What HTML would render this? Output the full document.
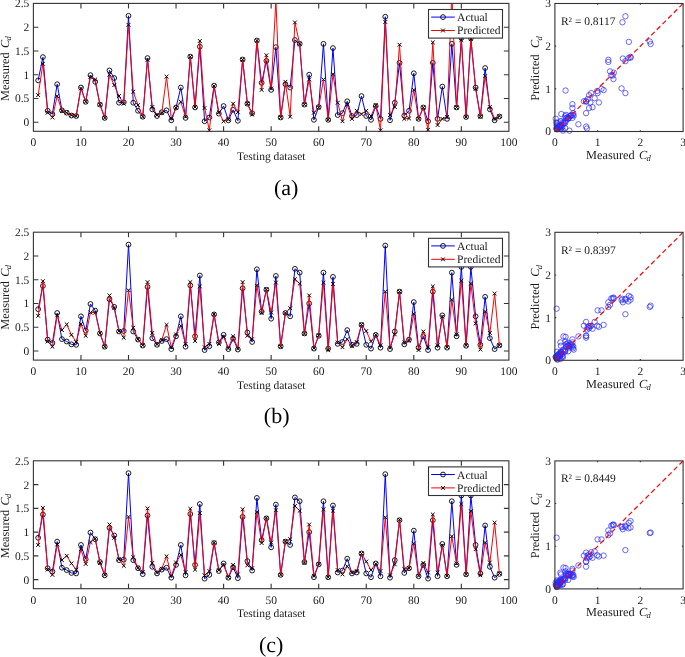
<!DOCTYPE html>
<html><head><meta charset="utf-8"><style>
html,body{margin:0;padding:0;background:#fff;}
svg{display:block;will-change:transform;}
text{font-family:"Liberation Serif", serif;text-rendering:geometricPrecision;}
.t{font-size:11.5px;fill:#1a1a1a;}
.l{font-size:11.5px;fill:#1a1a1a;}
.cap{font-size:22px;fill:#000;}
.al{font-size:12.3px;fill:#1a1a1a;}
</style></head><body>
<svg width="685" height="657" viewBox="0 0 685 657">
<text x="271.2" y="159.90" text-anchor="middle" class="l">Testing dataset</text>
<g transform="translate(8.90,100.90) rotate(-90)"><text x="0" y="0" class="al">Measured</text><text x="52.9" y="0" class="al" font-style="italic">C</text><text x="60.4" y="2.2" class="al" font-style="italic" style="font-size:8.5px">d</text></g>
<text x="286.1" y="194.60" text-anchor="middle" class="cap">(a)</text>
<clipPath id="cp0"><rect x="33.4" y="3.4" width="475.50" height="127.90"/></clipPath>
<polyline points="38.16,80.40 42.91,57.12 47.66,110.80 52.42,114.12 57.17,84.20 61.93,110.33 66.69,112.70 71.44,115.55 76.19,116.03 80.95,87.53 85.70,101.78 90.46,75.18 95.22,81.83 99.97,104.62 104.72,117.92 109.48,70.42 114.23,78.03 118.99,102.73 123.75,102.25 128.50,15.80 133.25,102.73 138.01,110.80 142.76,116.74 147.52,58.08 152.28,109.38 157.03,116.03 161.78,112.23 166.54,110.33 171.30,120.30 176.05,107.48 180.81,87.53 185.56,117.92 190.31,56.65 195.07,107.48 199.83,46.67 204.58,121.25 209.34,117.45 214.09,85.62 218.84,113.65 223.60,106.05 228.36,120.30 233.11,109.85 237.87,120.78 242.62,59.50 247.38,103.67 252.13,113.17 256.88,40.50 261.64,82.78 266.39,60.93 271.15,89.90 275.90,47.15 280.66,117.45 285.41,84.20 290.17,87.53 294.92,40.03 299.68,43.83 304.44,104.62 309.19,74.70 313.94,119.83 318.70,107.00 323.45,43.83 328.21,119.83 332.96,48.10 337.72,115.08 342.47,113.17 347.23,101.30 351.98,116.03 356.74,115.08 361.50,96.08 366.25,116.03 371.00,119.83 375.76,106.05 380.51,118.88 385.27,16.75 390.02,120.30 394.78,102.73 399.53,62.83 404.29,115.55 409.04,110.80 413.80,73.28 418.55,118.88 423.31,107.48 428.06,121.25 432.82,62.83 437.57,118.88 442.33,86.58 447.08,118.88 451.84,43.83 456.59,107.48 461.35,38.12 466.10,116.98 470.86,38.12 475.61,87.53 480.37,116.03 485.12,68.05 489.88,109.38 494.63,120.30 499.39,116.50" fill="none" stroke="#0000ff" stroke-width="1" clip-path="url(#cp0)"/>
<circle cx="38.16" cy="80.40" r="2.4" fill="none" stroke="#000" stroke-width="0.9"/>
<circle cx="42.91" cy="57.12" r="2.4" fill="none" stroke="#000" stroke-width="0.9"/>
<circle cx="47.66" cy="110.80" r="2.4" fill="none" stroke="#000" stroke-width="0.9"/>
<circle cx="52.42" cy="114.12" r="2.4" fill="none" stroke="#000" stroke-width="0.9"/>
<circle cx="57.17" cy="84.20" r="2.4" fill="none" stroke="#000" stroke-width="0.9"/>
<circle cx="61.93" cy="110.33" r="2.4" fill="none" stroke="#000" stroke-width="0.9"/>
<circle cx="66.69" cy="112.70" r="2.4" fill="none" stroke="#000" stroke-width="0.9"/>
<circle cx="71.44" cy="115.55" r="2.4" fill="none" stroke="#000" stroke-width="0.9"/>
<circle cx="76.19" cy="116.03" r="2.4" fill="none" stroke="#000" stroke-width="0.9"/>
<circle cx="80.95" cy="87.53" r="2.4" fill="none" stroke="#000" stroke-width="0.9"/>
<circle cx="85.70" cy="101.78" r="2.4" fill="none" stroke="#000" stroke-width="0.9"/>
<circle cx="90.46" cy="75.18" r="2.4" fill="none" stroke="#000" stroke-width="0.9"/>
<circle cx="95.22" cy="81.83" r="2.4" fill="none" stroke="#000" stroke-width="0.9"/>
<circle cx="99.97" cy="104.62" r="2.4" fill="none" stroke="#000" stroke-width="0.9"/>
<circle cx="104.72" cy="117.92" r="2.4" fill="none" stroke="#000" stroke-width="0.9"/>
<circle cx="109.48" cy="70.42" r="2.4" fill="none" stroke="#000" stroke-width="0.9"/>
<circle cx="114.23" cy="78.03" r="2.4" fill="none" stroke="#000" stroke-width="0.9"/>
<circle cx="118.99" cy="102.73" r="2.4" fill="none" stroke="#000" stroke-width="0.9"/>
<circle cx="123.75" cy="102.25" r="2.4" fill="none" stroke="#000" stroke-width="0.9"/>
<circle cx="128.50" cy="15.80" r="2.4" fill="none" stroke="#000" stroke-width="0.9"/>
<circle cx="133.25" cy="102.73" r="2.4" fill="none" stroke="#000" stroke-width="0.9"/>
<circle cx="138.01" cy="110.80" r="2.4" fill="none" stroke="#000" stroke-width="0.9"/>
<circle cx="142.76" cy="116.74" r="2.4" fill="none" stroke="#000" stroke-width="0.9"/>
<circle cx="147.52" cy="58.08" r="2.4" fill="none" stroke="#000" stroke-width="0.9"/>
<circle cx="152.28" cy="109.38" r="2.4" fill="none" stroke="#000" stroke-width="0.9"/>
<circle cx="157.03" cy="116.03" r="2.4" fill="none" stroke="#000" stroke-width="0.9"/>
<circle cx="161.78" cy="112.23" r="2.4" fill="none" stroke="#000" stroke-width="0.9"/>
<circle cx="166.54" cy="110.33" r="2.4" fill="none" stroke="#000" stroke-width="0.9"/>
<circle cx="171.30" cy="120.30" r="2.4" fill="none" stroke="#000" stroke-width="0.9"/>
<circle cx="176.05" cy="107.48" r="2.4" fill="none" stroke="#000" stroke-width="0.9"/>
<circle cx="180.81" cy="87.53" r="2.4" fill="none" stroke="#000" stroke-width="0.9"/>
<circle cx="185.56" cy="117.92" r="2.4" fill="none" stroke="#000" stroke-width="0.9"/>
<circle cx="190.31" cy="56.65" r="2.4" fill="none" stroke="#000" stroke-width="0.9"/>
<circle cx="195.07" cy="107.48" r="2.4" fill="none" stroke="#000" stroke-width="0.9"/>
<circle cx="199.83" cy="46.67" r="2.4" fill="none" stroke="#000" stroke-width="0.9"/>
<circle cx="204.58" cy="121.25" r="2.4" fill="none" stroke="#000" stroke-width="0.9"/>
<circle cx="209.34" cy="117.45" r="2.4" fill="none" stroke="#000" stroke-width="0.9"/>
<circle cx="214.09" cy="85.62" r="2.4" fill="none" stroke="#000" stroke-width="0.9"/>
<circle cx="218.84" cy="113.65" r="2.4" fill="none" stroke="#000" stroke-width="0.9"/>
<circle cx="223.60" cy="106.05" r="2.4" fill="none" stroke="#000" stroke-width="0.9"/>
<circle cx="228.36" cy="120.30" r="2.4" fill="none" stroke="#000" stroke-width="0.9"/>
<circle cx="233.11" cy="109.85" r="2.4" fill="none" stroke="#000" stroke-width="0.9"/>
<circle cx="237.87" cy="120.78" r="2.4" fill="none" stroke="#000" stroke-width="0.9"/>
<circle cx="242.62" cy="59.50" r="2.4" fill="none" stroke="#000" stroke-width="0.9"/>
<circle cx="247.38" cy="103.67" r="2.4" fill="none" stroke="#000" stroke-width="0.9"/>
<circle cx="252.13" cy="113.17" r="2.4" fill="none" stroke="#000" stroke-width="0.9"/>
<circle cx="256.88" cy="40.50" r="2.4" fill="none" stroke="#000" stroke-width="0.9"/>
<circle cx="261.64" cy="82.78" r="2.4" fill="none" stroke="#000" stroke-width="0.9"/>
<circle cx="266.39" cy="60.93" r="2.4" fill="none" stroke="#000" stroke-width="0.9"/>
<circle cx="271.15" cy="89.90" r="2.4" fill="none" stroke="#000" stroke-width="0.9"/>
<circle cx="275.90" cy="47.15" r="2.4" fill="none" stroke="#000" stroke-width="0.9"/>
<circle cx="280.66" cy="117.45" r="2.4" fill="none" stroke="#000" stroke-width="0.9"/>
<circle cx="285.41" cy="84.20" r="2.4" fill="none" stroke="#000" stroke-width="0.9"/>
<circle cx="290.17" cy="87.53" r="2.4" fill="none" stroke="#000" stroke-width="0.9"/>
<circle cx="294.92" cy="40.03" r="2.4" fill="none" stroke="#000" stroke-width="0.9"/>
<circle cx="299.68" cy="43.83" r="2.4" fill="none" stroke="#000" stroke-width="0.9"/>
<circle cx="304.44" cy="104.62" r="2.4" fill="none" stroke="#000" stroke-width="0.9"/>
<circle cx="309.19" cy="74.70" r="2.4" fill="none" stroke="#000" stroke-width="0.9"/>
<circle cx="313.94" cy="119.83" r="2.4" fill="none" stroke="#000" stroke-width="0.9"/>
<circle cx="318.70" cy="107.00" r="2.4" fill="none" stroke="#000" stroke-width="0.9"/>
<circle cx="323.45" cy="43.83" r="2.4" fill="none" stroke="#000" stroke-width="0.9"/>
<circle cx="328.21" cy="119.83" r="2.4" fill="none" stroke="#000" stroke-width="0.9"/>
<circle cx="332.96" cy="48.10" r="2.4" fill="none" stroke="#000" stroke-width="0.9"/>
<circle cx="337.72" cy="115.08" r="2.4" fill="none" stroke="#000" stroke-width="0.9"/>
<circle cx="342.47" cy="113.17" r="2.4" fill="none" stroke="#000" stroke-width="0.9"/>
<circle cx="347.23" cy="101.30" r="2.4" fill="none" stroke="#000" stroke-width="0.9"/>
<circle cx="351.98" cy="116.03" r="2.4" fill="none" stroke="#000" stroke-width="0.9"/>
<circle cx="356.74" cy="115.08" r="2.4" fill="none" stroke="#000" stroke-width="0.9"/>
<circle cx="361.50" cy="96.08" r="2.4" fill="none" stroke="#000" stroke-width="0.9"/>
<circle cx="366.25" cy="116.03" r="2.4" fill="none" stroke="#000" stroke-width="0.9"/>
<circle cx="371.00" cy="119.83" r="2.4" fill="none" stroke="#000" stroke-width="0.9"/>
<circle cx="375.76" cy="106.05" r="2.4" fill="none" stroke="#000" stroke-width="0.9"/>
<circle cx="380.51" cy="118.88" r="2.4" fill="none" stroke="#000" stroke-width="0.9"/>
<circle cx="385.27" cy="16.75" r="2.4" fill="none" stroke="#000" stroke-width="0.9"/>
<circle cx="390.02" cy="120.30" r="2.4" fill="none" stroke="#000" stroke-width="0.9"/>
<circle cx="394.78" cy="102.73" r="2.4" fill="none" stroke="#000" stroke-width="0.9"/>
<circle cx="399.53" cy="62.83" r="2.4" fill="none" stroke="#000" stroke-width="0.9"/>
<circle cx="404.29" cy="115.55" r="2.4" fill="none" stroke="#000" stroke-width="0.9"/>
<circle cx="409.04" cy="110.80" r="2.4" fill="none" stroke="#000" stroke-width="0.9"/>
<circle cx="413.80" cy="73.28" r="2.4" fill="none" stroke="#000" stroke-width="0.9"/>
<circle cx="418.55" cy="118.88" r="2.4" fill="none" stroke="#000" stroke-width="0.9"/>
<circle cx="423.31" cy="107.48" r="2.4" fill="none" stroke="#000" stroke-width="0.9"/>
<circle cx="428.06" cy="121.25" r="2.4" fill="none" stroke="#000" stroke-width="0.9"/>
<circle cx="432.82" cy="62.83" r="2.4" fill="none" stroke="#000" stroke-width="0.9"/>
<circle cx="437.57" cy="118.88" r="2.4" fill="none" stroke="#000" stroke-width="0.9"/>
<circle cx="442.33" cy="86.58" r="2.4" fill="none" stroke="#000" stroke-width="0.9"/>
<circle cx="447.08" cy="118.88" r="2.4" fill="none" stroke="#000" stroke-width="0.9"/>
<circle cx="451.84" cy="43.83" r="2.4" fill="none" stroke="#000" stroke-width="0.9"/>
<circle cx="456.59" cy="107.48" r="2.4" fill="none" stroke="#000" stroke-width="0.9"/>
<circle cx="461.35" cy="38.12" r="2.4" fill="none" stroke="#000" stroke-width="0.9"/>
<circle cx="466.10" cy="116.98" r="2.4" fill="none" stroke="#000" stroke-width="0.9"/>
<circle cx="470.86" cy="38.12" r="2.4" fill="none" stroke="#000" stroke-width="0.9"/>
<circle cx="475.61" cy="87.53" r="2.4" fill="none" stroke="#000" stroke-width="0.9"/>
<circle cx="480.37" cy="116.03" r="2.4" fill="none" stroke="#000" stroke-width="0.9"/>
<circle cx="485.12" cy="68.05" r="2.4" fill="none" stroke="#000" stroke-width="0.9"/>
<circle cx="489.88" cy="109.38" r="2.4" fill="none" stroke="#000" stroke-width="0.9"/>
<circle cx="494.63" cy="120.30" r="2.4" fill="none" stroke="#000" stroke-width="0.9"/>
<circle cx="499.39" cy="116.50" r="2.4" fill="none" stroke="#000" stroke-width="0.9"/>
<polyline points="38.16,95.12 42.91,63.78 47.66,112.70 52.42,117.45 57.17,96.08 61.93,110.80 66.69,112.70 71.44,115.08 76.19,116.03 80.95,88.47 85.70,101.78 90.46,77.08 95.22,79.45 99.97,104.62 104.72,117.92 109.48,74.70 114.23,85.15 118.99,96.08 123.75,103.67 128.50,24.83 133.25,91.80 138.01,105.10 142.76,116.74 147.52,59.98 152.28,107.00 157.03,115.08 161.78,113.17 166.54,76.60 171.30,118.40 176.05,107.95 180.81,101.78 185.56,116.74 190.31,56.65 195.07,107.00 199.83,40.98 204.58,107.95 209.34,130.28 214.09,86.10 218.84,112.23 223.60,121.25 228.36,119.35 233.11,103.67 237.87,112.23 242.62,59.50 247.38,103.67 252.13,114.60 256.88,40.50 261.64,89.90 266.39,55.23 271.15,88.47 275.90,0.60 280.66,117.45 285.41,81.83 290.17,116.74 294.92,22.45 299.68,43.83 304.44,104.62 309.19,79.45 313.94,112.70 318.70,107.48 323.45,79.45 328.21,119.83 332.96,74.22 337.72,102.73 342.47,121.25 347.23,104.62 351.98,118.88 356.74,110.80 361.50,114.12 366.25,110.80 371.00,116.03 375.76,105.10 380.51,130.28 385.27,21.98 390.02,115.08 394.78,107.00 399.53,44.78 404.29,118.88 409.04,118.40 413.80,89.90 418.55,118.88 423.31,107.48 428.06,129.80 432.82,42.40 437.57,125.05 442.33,118.88 447.08,116.98 451.84,-6.05 456.59,107.48 461.35,40.03 466.10,116.98 470.86,39.08 475.61,88.95 480.37,116.74 485.12,76.12 489.88,107.00 494.63,118.88 499.39,116.03" fill="none" stroke="#ff0000" stroke-width="1" clip-path="url(#cp0)"/>
<path d="M36.26,93.22L40.05,97.03M36.26,97.03L40.05,93.22M41.01,61.88L44.81,65.68M41.01,65.68L44.81,61.88M45.77,110.80L49.56,114.60M45.77,114.60L49.56,110.80M50.52,115.55L54.32,119.35M50.52,119.35L54.32,115.55M55.27,94.17L59.07,97.98M55.27,97.98L59.07,94.17M60.03,108.90L63.83,112.70M60.03,112.70L63.83,108.90M64.78,110.80L68.59,114.60M64.78,114.60L68.59,110.80M69.54,113.17L73.34,116.98M69.54,116.98L73.34,113.17M74.29,114.12L78.09,117.93M74.29,117.93L78.09,114.12M79.05,86.57L82.85,90.38M79.05,90.38L82.85,86.57M83.80,99.88L87.61,103.68M83.80,103.68L87.61,99.88M88.56,75.17L92.36,78.98M88.56,78.98L92.36,75.17M93.31,77.55L97.12,81.35M93.31,81.35L97.12,77.55M98.07,102.72L101.87,106.53M98.07,106.53L101.87,102.72M102.82,116.02L106.62,119.83M102.82,119.83L106.62,116.02M107.58,72.80L111.38,76.60M107.58,76.60L111.38,72.80M112.33,83.25L116.13,87.05M112.33,87.05L116.13,83.25M117.09,94.17L120.89,97.98M117.09,97.98L120.89,94.17M121.84,101.77L125.65,105.58M121.84,105.58L125.65,101.77M126.60,22.93L130.40,26.73M126.60,26.73L130.40,22.93M131.35,89.90L135.16,93.70M131.35,93.70L135.16,89.90M136.11,103.20L139.91,107.00M136.11,107.00L139.91,103.20M140.86,114.84L144.66,118.64M140.86,118.64L144.66,114.84M145.62,58.08L149.42,61.88M145.62,61.88L149.42,58.08M150.38,105.10L154.18,108.90M150.38,108.90L154.18,105.10M155.13,113.17L158.93,116.98M155.13,116.98L158.93,113.17M159.88,111.27L163.69,115.08M159.88,115.08L163.69,111.27M164.64,74.70L168.44,78.50M164.64,78.50L168.44,74.70M169.40,116.50L173.20,120.30M169.40,120.30L173.20,116.50M174.15,106.05L177.95,109.85M174.15,109.85L177.95,106.05M178.91,99.88L182.71,103.68M178.91,103.68L182.71,99.88M183.66,114.84L187.46,118.64M183.66,118.64L187.46,114.84M188.41,54.75L192.22,58.55M188.41,58.55L192.22,54.75M193.17,105.10L196.97,108.90M193.17,108.90L196.97,105.10M197.93,39.08L201.73,42.88M197.93,42.88L201.73,39.08M202.68,106.05L206.48,109.85M202.68,109.85L206.48,106.05M207.44,128.38L211.24,132.18M207.44,132.18L211.24,128.38M212.19,84.20L215.99,88.00M212.19,88.00L215.99,84.20M216.94,110.33L220.75,114.13M216.94,114.13L220.75,110.33M221.70,119.35L225.50,123.15M221.70,123.15L225.50,119.35M226.46,117.45L230.26,121.25M226.46,121.25L230.26,117.45M231.21,101.77L235.01,105.58M231.21,105.58L235.01,101.77M235.97,110.33L239.77,114.13M235.97,114.13L239.77,110.33M240.72,57.60L244.52,61.40M240.72,61.40L244.52,57.60M245.47,101.77L249.28,105.58M245.47,105.58L249.28,101.77M250.23,112.70L254.03,116.50M250.23,116.50L254.03,112.70M254.98,38.60L258.78,42.40M254.98,42.40L258.78,38.60M259.74,88.00L263.54,91.80M259.74,91.80L263.54,88.00M264.50,53.33L268.29,57.13M264.50,57.13L268.29,53.33M269.25,86.57L273.05,90.38M269.25,90.38L273.05,86.57M278.76,115.55L282.56,119.35M278.76,119.35L282.56,115.55M283.51,79.92L287.31,83.73M283.51,83.73L287.31,79.92M288.27,114.84L292.07,118.64M288.27,118.64L292.07,114.84M293.02,20.55L296.82,24.35M293.02,24.35L296.82,20.55M297.78,41.93L301.58,45.73M297.78,45.73L301.58,41.93M302.54,102.72L306.33,106.53M302.54,106.53L306.33,102.72M307.29,77.55L311.09,81.35M307.29,81.35L311.09,77.55M312.05,110.80L315.84,114.60M312.05,114.60L315.84,110.80M316.80,105.58L320.60,109.38M316.80,109.38L320.60,105.58M321.56,77.55L325.35,81.35M321.56,81.35L325.35,77.55M326.31,117.92L330.11,121.73M326.31,121.73L330.11,117.92M331.06,72.32L334.86,76.12M331.06,76.12L334.86,72.32M335.82,100.83L339.62,104.63M335.82,104.63L339.62,100.83M340.57,119.35L344.37,123.15M340.57,123.15L344.37,119.35M345.33,102.72L349.13,106.53M345.33,106.53L349.13,102.72M350.08,116.97L353.88,120.78M350.08,120.78L353.88,116.97M354.84,108.90L358.64,112.70M354.84,112.70L358.64,108.90M359.60,112.22L363.39,116.03M359.60,116.03L363.39,112.22M364.35,108.90L368.15,112.70M364.35,112.70L368.15,108.90M369.11,114.12L372.90,117.93M369.11,117.93L372.90,114.12M373.86,103.20L377.66,107.00M373.86,107.00L377.66,103.20M378.62,128.38L382.41,132.18M378.62,132.18L382.41,128.38M383.37,20.08L387.17,23.88M383.37,23.88L387.17,20.08M388.12,113.17L391.92,116.98M388.12,116.98L391.92,113.17M392.88,105.10L396.68,108.90M392.88,108.90L396.68,105.10M397.63,42.88L401.43,46.68M397.63,46.68L401.43,42.88M402.39,116.97L406.19,120.78M402.39,120.78L406.19,116.97M407.14,116.50L410.94,120.30M407.14,120.30L410.94,116.50M411.90,88.00L415.70,91.80M411.90,91.80L415.70,88.00M416.65,116.97L420.45,120.78M416.65,120.78L420.45,116.97M421.41,105.58L425.21,109.38M421.41,109.38L425.21,105.58M426.17,127.90L429.96,131.70M426.17,131.70L429.96,127.90M430.92,40.50L434.72,44.30M430.92,44.30L434.72,40.50M435.68,123.15L439.47,126.95M435.68,126.95L439.47,123.15M440.43,116.97L444.23,120.78M440.43,120.78L444.23,116.97M445.19,115.08L448.98,118.88M445.19,118.88L448.98,115.08M454.69,105.58L458.49,109.38M454.69,109.38L458.49,105.58M459.45,38.13L463.25,41.93M459.45,41.93L463.25,38.13M464.20,115.08L468.00,118.88M464.20,118.88L468.00,115.08M468.96,37.18L472.76,40.98M468.96,40.98L472.76,37.18M473.71,87.05L477.51,90.85M473.71,90.85L477.51,87.05M478.47,114.84L482.27,118.64M478.47,118.64L482.27,114.84M483.23,74.22L487.02,78.03M483.23,78.03L487.02,74.22M487.98,105.10L491.78,108.90M487.98,108.90L491.78,105.10M492.74,116.97L496.53,120.78M492.74,120.78L496.53,116.97M497.49,114.12L501.29,117.93M497.49,117.93L501.29,114.12" stroke="#000" stroke-width="1" fill="none"/>
<rect x="33.4" y="3.4" width="475.50" height="127.90" fill="none" stroke="#333333" stroke-width="1.1"/>
<text x="33.40" y="146.10" text-anchor="middle" class="t">0</text>
<text x="80.95" y="146.10" text-anchor="middle" class="t">10</text>
<text x="128.50" y="146.10" text-anchor="middle" class="t">20</text>
<text x="176.05" y="146.10" text-anchor="middle" class="t">30</text>
<text x="223.60" y="146.10" text-anchor="middle" class="t">40</text>
<text x="271.15" y="146.10" text-anchor="middle" class="t">50</text>
<text x="318.70" y="146.10" text-anchor="middle" class="t">60</text>
<text x="366.25" y="146.10" text-anchor="middle" class="t">70</text>
<text x="413.80" y="146.10" text-anchor="middle" class="t">80</text>
<text x="461.35" y="146.10" text-anchor="middle" class="t">90</text>
<text x="508.90" y="146.10" text-anchor="middle" class="t">100</text>
<text x="29.3" y="126.10" text-anchor="end" class="t">0</text>
<text x="29.3" y="102.35" text-anchor="end" class="t">0.5</text>
<text x="29.3" y="78.60" text-anchor="end" class="t">1</text>
<text x="29.3" y="54.85" text-anchor="end" class="t">1.5</text>
<text x="29.3" y="31.10" text-anchor="end" class="t">2</text>
<text x="29.3" y="7.35" text-anchor="end" class="t">2.5</text>
<path d="M80.95,131.30V126.30M80.95,3.40V8.40M128.50,131.30V126.30M128.50,3.40V8.40M176.05,131.30V126.30M176.05,3.40V8.40M223.60,131.30V126.30M223.60,3.40V8.40M271.15,131.30V126.30M271.15,3.40V8.40M318.70,131.30V126.30M318.70,3.40V8.40M366.25,131.30V126.30M366.25,3.40V8.40M413.80,131.30V126.30M413.80,3.40V8.40M461.35,131.30V126.30M461.35,3.40V8.40M33.4,122.20H38.40M508.9,122.20H503.90M33.4,98.45H38.40M508.9,98.45H503.90M33.4,74.70H38.40M508.9,74.70H503.90M33.4,50.95H38.40M508.9,50.95H503.90M33.4,27.20H38.40M508.9,27.20H503.90" stroke="#333333" stroke-width="1.1" fill="none"/>
<rect x="428.5" y="9.50" width="74" height="28.6" fill="#fff" stroke="#333333" stroke-width="1.1"/>
<line x1="431.2" y1="17.10" x2="454.8" y2="17.10" stroke="#0000ff" stroke-width="1"/>
<circle cx="443" cy="17.10" r="2.4" fill="none" stroke="#000" stroke-width="0.9"/>
<line x1="431.2" y1="30.50" x2="454.8" y2="30.50" stroke="#ff0000" stroke-width="1"/>
<path d="M441.1,28.60L444.9,32.40M441.1,32.40L444.9,28.60" stroke="#000" stroke-width="1"/>
<text x="457.1" y="21.30" class="l">Actual</text>
<text x="457.1" y="34.40" class="l">Predicted</text>
<g transform="translate(586.10,158.70)"><text x="0" y="0" class="al">Measured</text><text x="52.9" y="0" class="al" font-style="italic">C</text><text x="60.4" y="2.2" class="al" font-style="italic" style="font-size:8.5px">d</text></g>
<g transform="translate(539.30,100.80) rotate(-90)"><text x="0" y="0" class="al">Predicted</text><text x="52.9" y="0" class="al" font-style="italic">C</text><text x="60.4" y="2.2" class="al" font-style="italic" style="font-size:8.5px">d</text></g>
<text x="560.9" y="25.00" class="l">R² = 0.8117</text>
<circle cx="592.51" cy="107.18" r="2.7" fill="none" stroke="#2a2aff" stroke-width="0.7"/>
<circle cx="613.44" cy="79.02" r="2.7" fill="none" stroke="#2a2aff" stroke-width="0.7"/>
<circle cx="565.16" cy="122.97" r="2.7" fill="none" stroke="#2a2aff" stroke-width="0.7"/>
<circle cx="562.16" cy="127.23" r="2.7" fill="none" stroke="#2a2aff" stroke-width="0.7"/>
<circle cx="589.09" cy="108.03" r="2.7" fill="none" stroke="#2a2aff" stroke-width="0.7"/>
<circle cx="565.58" cy="121.26" r="2.7" fill="none" stroke="#2a2aff" stroke-width="0.7"/>
<circle cx="563.45" cy="122.97" r="2.7" fill="none" stroke="#2a2aff" stroke-width="0.7"/>
<circle cx="560.88" cy="125.10" r="2.7" fill="none" stroke="#2a2aff" stroke-width="0.7"/>
<circle cx="560.46" cy="125.95" r="2.7" fill="none" stroke="#2a2aff" stroke-width="0.7"/>
<circle cx="586.10" cy="101.21" r="2.7" fill="none" stroke="#2a2aff" stroke-width="0.7"/>
<circle cx="573.28" cy="113.15" r="2.7" fill="none" stroke="#2a2aff" stroke-width="0.7"/>
<circle cx="597.21" cy="90.97" r="2.7" fill="none" stroke="#2a2aff" stroke-width="0.7"/>
<circle cx="591.22" cy="93.10" r="2.7" fill="none" stroke="#2a2aff" stroke-width="0.7"/>
<circle cx="570.71" cy="115.71" r="2.7" fill="none" stroke="#2a2aff" stroke-width="0.7"/>
<circle cx="558.75" cy="127.66" r="2.7" fill="none" stroke="#2a2aff" stroke-width="0.7"/>
<circle cx="601.48" cy="88.83" r="2.7" fill="none" stroke="#2a2aff" stroke-width="0.7"/>
<circle cx="594.64" cy="98.22" r="2.7" fill="none" stroke="#2a2aff" stroke-width="0.7"/>
<circle cx="572.42" cy="108.03" r="2.7" fill="none" stroke="#2a2aff" stroke-width="0.7"/>
<circle cx="572.85" cy="114.86" r="2.7" fill="none" stroke="#2a2aff" stroke-width="0.7"/>
<circle cx="650.62" cy="44.03" r="2.7" fill="none" stroke="#2a2aff" stroke-width="0.7"/>
<circle cx="572.42" cy="104.19" r="2.7" fill="none" stroke="#2a2aff" stroke-width="0.7"/>
<circle cx="565.16" cy="116.14" r="2.7" fill="none" stroke="#2a2aff" stroke-width="0.7"/>
<circle cx="559.81" cy="126.59" r="2.7" fill="none" stroke="#2a2aff" stroke-width="0.7"/>
<circle cx="612.59" cy="75.61" r="2.7" fill="none" stroke="#2a2aff" stroke-width="0.7"/>
<circle cx="566.44" cy="117.85" r="2.7" fill="none" stroke="#2a2aff" stroke-width="0.7"/>
<circle cx="560.46" cy="125.10" r="2.7" fill="none" stroke="#2a2aff" stroke-width="0.7"/>
<circle cx="563.87" cy="123.39" r="2.7" fill="none" stroke="#2a2aff" stroke-width="0.7"/>
<circle cx="565.58" cy="90.54" r="2.7" fill="none" stroke="#2a2aff" stroke-width="0.7"/>
<circle cx="556.61" cy="128.09" r="2.7" fill="none" stroke="#2a2aff" stroke-width="0.7"/>
<circle cx="568.15" cy="118.70" r="2.7" fill="none" stroke="#2a2aff" stroke-width="0.7"/>
<circle cx="586.10" cy="113.15" r="2.7" fill="none" stroke="#2a2aff" stroke-width="0.7"/>
<circle cx="558.75" cy="126.59" r="2.7" fill="none" stroke="#2a2aff" stroke-width="0.7"/>
<circle cx="613.87" cy="72.62" r="2.7" fill="none" stroke="#2a2aff" stroke-width="0.7"/>
<circle cx="568.15" cy="117.85" r="2.7" fill="none" stroke="#2a2aff" stroke-width="0.7"/>
<circle cx="622.85" cy="58.54" r="2.7" fill="none" stroke="#2a2aff" stroke-width="0.7"/>
<circle cx="555.75" cy="118.70" r="2.7" fill="none" stroke="#2a2aff" stroke-width="0.7"/>
<circle cx="587.80" cy="99.07" r="2.7" fill="none" stroke="#2a2aff" stroke-width="0.7"/>
<circle cx="562.59" cy="122.54" r="2.7" fill="none" stroke="#2a2aff" stroke-width="0.7"/>
<circle cx="569.43" cy="130.65" r="2.7" fill="none" stroke="#2a2aff" stroke-width="0.7"/>
<circle cx="556.61" cy="128.94" r="2.7" fill="none" stroke="#2a2aff" stroke-width="0.7"/>
<circle cx="566.01" cy="114.86" r="2.7" fill="none" stroke="#2a2aff" stroke-width="0.7"/>
<circle cx="556.18" cy="122.54" r="2.7" fill="none" stroke="#2a2aff" stroke-width="0.7"/>
<circle cx="611.31" cy="75.18" r="2.7" fill="none" stroke="#2a2aff" stroke-width="0.7"/>
<circle cx="571.57" cy="114.86" r="2.7" fill="none" stroke="#2a2aff" stroke-width="0.7"/>
<circle cx="563.02" cy="124.67" r="2.7" fill="none" stroke="#2a2aff" stroke-width="0.7"/>
<circle cx="628.40" cy="58.11" r="2.7" fill="none" stroke="#2a2aff" stroke-width="0.7"/>
<circle cx="590.37" cy="102.49" r="2.7" fill="none" stroke="#2a2aff" stroke-width="0.7"/>
<circle cx="610.03" cy="71.34" r="2.7" fill="none" stroke="#2a2aff" stroke-width="0.7"/>
<circle cx="583.96" cy="101.21" r="2.7" fill="none" stroke="#2a2aff" stroke-width="0.7"/>
<circle cx="622.42" cy="22.27" r="2.7" fill="none" stroke="#2a2aff" stroke-width="0.7"/>
<circle cx="559.17" cy="127.23" r="2.7" fill="none" stroke="#2a2aff" stroke-width="0.7"/>
<circle cx="589.09" cy="95.23" r="2.7" fill="none" stroke="#2a2aff" stroke-width="0.7"/>
<circle cx="586.10" cy="126.59" r="2.7" fill="none" stroke="#2a2aff" stroke-width="0.7"/>
<circle cx="628.83" cy="41.90" r="2.7" fill="none" stroke="#2a2aff" stroke-width="0.7"/>
<circle cx="625.41" cy="61.10" r="2.7" fill="none" stroke="#2a2aff" stroke-width="0.7"/>
<circle cx="570.71" cy="115.71" r="2.7" fill="none" stroke="#2a2aff" stroke-width="0.7"/>
<circle cx="597.63" cy="93.10" r="2.7" fill="none" stroke="#2a2aff" stroke-width="0.7"/>
<circle cx="557.04" cy="122.97" r="2.7" fill="none" stroke="#2a2aff" stroke-width="0.7"/>
<circle cx="568.57" cy="118.27" r="2.7" fill="none" stroke="#2a2aff" stroke-width="0.7"/>
<circle cx="625.41" cy="93.10" r="2.7" fill="none" stroke="#2a2aff" stroke-width="0.7"/>
<circle cx="557.04" cy="129.37" r="2.7" fill="none" stroke="#2a2aff" stroke-width="0.7"/>
<circle cx="621.56" cy="88.41" r="2.7" fill="none" stroke="#2a2aff" stroke-width="0.7"/>
<circle cx="561.31" cy="114.01" r="2.7" fill="none" stroke="#2a2aff" stroke-width="0.7"/>
<circle cx="563.02" cy="130.65" r="2.7" fill="none" stroke="#2a2aff" stroke-width="0.7"/>
<circle cx="573.70" cy="115.71" r="2.7" fill="none" stroke="#2a2aff" stroke-width="0.7"/>
<circle cx="560.46" cy="128.51" r="2.7" fill="none" stroke="#2a2aff" stroke-width="0.7"/>
<circle cx="561.31" cy="121.26" r="2.7" fill="none" stroke="#2a2aff" stroke-width="0.7"/>
<circle cx="578.40" cy="124.25" r="2.7" fill="none" stroke="#2a2aff" stroke-width="0.7"/>
<circle cx="560.46" cy="121.26" r="2.7" fill="none" stroke="#2a2aff" stroke-width="0.7"/>
<circle cx="557.04" cy="125.95" r="2.7" fill="none" stroke="#2a2aff" stroke-width="0.7"/>
<circle cx="569.43" cy="116.14" r="2.7" fill="none" stroke="#2a2aff" stroke-width="0.7"/>
<circle cx="649.77" cy="41.47" r="2.7" fill="none" stroke="#2a2aff" stroke-width="0.7"/>
<circle cx="556.61" cy="125.10" r="2.7" fill="none" stroke="#2a2aff" stroke-width="0.7"/>
<circle cx="572.42" cy="117.85" r="2.7" fill="none" stroke="#2a2aff" stroke-width="0.7"/>
<circle cx="608.32" cy="61.95" r="2.7" fill="none" stroke="#2a2aff" stroke-width="0.7"/>
<circle cx="560.88" cy="128.51" r="2.7" fill="none" stroke="#2a2aff" stroke-width="0.7"/>
<circle cx="565.16" cy="128.09" r="2.7" fill="none" stroke="#2a2aff" stroke-width="0.7"/>
<circle cx="598.92" cy="102.49" r="2.7" fill="none" stroke="#2a2aff" stroke-width="0.7"/>
<circle cx="557.89" cy="128.51" r="2.7" fill="none" stroke="#2a2aff" stroke-width="0.7"/>
<circle cx="568.15" cy="118.27" r="2.7" fill="none" stroke="#2a2aff" stroke-width="0.7"/>
<circle cx="608.32" cy="59.82" r="2.7" fill="none" stroke="#2a2aff" stroke-width="0.7"/>
<circle cx="586.95" cy="128.51" r="2.7" fill="none" stroke="#2a2aff" stroke-width="0.7"/>
<circle cx="557.89" cy="126.81" r="2.7" fill="none" stroke="#2a2aff" stroke-width="0.7"/>
<circle cx="625.41" cy="16.30" r="2.7" fill="none" stroke="#2a2aff" stroke-width="0.7"/>
<circle cx="568.15" cy="118.27" r="2.7" fill="none" stroke="#2a2aff" stroke-width="0.7"/>
<circle cx="630.54" cy="57.69" r="2.7" fill="none" stroke="#2a2aff" stroke-width="0.7"/>
<circle cx="559.60" cy="126.81" r="2.7" fill="none" stroke="#2a2aff" stroke-width="0.7"/>
<circle cx="630.54" cy="56.83" r="2.7" fill="none" stroke="#2a2aff" stroke-width="0.7"/>
<circle cx="586.10" cy="101.63" r="2.7" fill="none" stroke="#2a2aff" stroke-width="0.7"/>
<circle cx="560.46" cy="126.59" r="2.7" fill="none" stroke="#2a2aff" stroke-width="0.7"/>
<circle cx="603.62" cy="90.11" r="2.7" fill="none" stroke="#2a2aff" stroke-width="0.7"/>
<circle cx="566.44" cy="117.85" r="2.7" fill="none" stroke="#2a2aff" stroke-width="0.7"/>
<circle cx="556.61" cy="128.51" r="2.7" fill="none" stroke="#2a2aff" stroke-width="0.7"/>
<circle cx="560.03" cy="125.95" r="2.7" fill="none" stroke="#2a2aff" stroke-width="0.7"/>
<line x1="554.9" y1="131.50" x2="683.1" y2="3.50" stroke="#ff0000" stroke-width="1.2" stroke-dasharray="5 3"/>
<rect x="554.9" y="3.50" width="128.20" height="128.00" fill="none" stroke="#333333" stroke-width="1.1"/>
<text x="554.90" y="146.10" text-anchor="middle" class="t">0</text>
<text x="551.0" y="135.40" text-anchor="end" class="t">0</text>
<text x="597.63" y="146.10" text-anchor="middle" class="t">1</text>
<text x="551.0" y="92.73" text-anchor="end" class="t">1</text>
<text x="640.37" y="146.10" text-anchor="middle" class="t">2</text>
<text x="551.0" y="50.07" text-anchor="end" class="t">2</text>
<text x="683.10" y="146.10" text-anchor="middle" class="t">3</text>
<text x="551.0" y="7.40" text-anchor="end" class="t">3</text>
<path d="M597.63,131.50V130.20M597.63,3.50V4.80M554.9,88.83H556.20M683.1,88.83H681.80M640.37,131.50V130.20M640.37,3.50V4.80M554.9,46.17H556.20M683.1,46.17H681.80" stroke="#333333" stroke-width="1.1" fill="none"/>
<text x="271.2" y="388.70" text-anchor="middle" class="l">Testing dataset</text>
<g transform="translate(8.90,329.70) rotate(-90)"><text x="0" y="0" class="al">Measured</text><text x="52.9" y="0" class="al" font-style="italic">C</text><text x="60.4" y="2.2" class="al" font-style="italic" style="font-size:8.5px">d</text></g>
<text x="276.7" y="423.40" text-anchor="middle" class="cap">(b)</text>
<clipPath id="cp1"><rect x="33.4" y="232.2" width="475.50" height="127.90"/></clipPath>
<polyline points="38.16,309.20 42.91,285.93 47.66,339.60 52.42,342.93 57.17,313.00 61.93,339.12 66.69,341.50 71.44,344.35 76.19,344.82 80.95,316.32 85.70,330.57 90.46,303.98 95.22,310.62 99.97,333.43 104.72,346.73 109.48,299.23 114.23,306.82 118.99,331.52 123.75,331.05 128.50,244.60 133.25,331.52 138.01,339.60 142.76,345.54 147.52,286.88 152.28,338.18 157.03,344.82 161.78,341.02 166.54,339.12 171.30,349.10 176.05,336.27 180.81,316.32 185.56,346.73 190.31,285.45 195.07,336.27 199.83,275.48 204.58,350.05 209.34,346.25 214.09,314.43 218.84,342.45 223.60,334.85 228.36,349.10 233.11,338.65 237.87,349.57 242.62,288.30 247.38,332.48 252.13,341.98 256.88,269.30 261.64,311.57 266.39,289.73 271.15,318.70 275.90,275.95 280.66,346.25 285.41,313.00 290.17,316.32 294.92,268.82 299.68,272.62 304.44,333.43 309.19,303.50 313.94,348.62 318.70,335.80 323.45,272.62 328.21,348.62 332.96,276.90 337.72,343.88 342.47,341.98 347.23,330.10 351.98,344.82 356.74,343.88 361.50,324.88 366.25,344.82 371.00,348.62 375.76,334.85 380.51,347.68 385.27,245.55 390.02,349.10 394.78,331.52 399.53,291.62 404.29,344.35 409.04,339.60 413.80,302.07 418.55,347.68 423.31,336.27 428.06,350.05 432.82,291.62 437.57,347.68 442.33,315.38 447.08,347.68 451.84,272.62 456.59,336.27 461.35,266.93 466.10,345.77 470.86,266.93 475.61,316.32 480.37,344.82 485.12,296.85 489.88,338.18 494.63,349.10 499.39,345.30" fill="none" stroke="#0000ff" stroke-width="1" clip-path="url(#cp1)"/>
<circle cx="38.16" cy="309.20" r="2.4" fill="none" stroke="#000" stroke-width="0.9"/>
<circle cx="42.91" cy="285.93" r="2.4" fill="none" stroke="#000" stroke-width="0.9"/>
<circle cx="47.66" cy="339.60" r="2.4" fill="none" stroke="#000" stroke-width="0.9"/>
<circle cx="52.42" cy="342.93" r="2.4" fill="none" stroke="#000" stroke-width="0.9"/>
<circle cx="57.17" cy="313.00" r="2.4" fill="none" stroke="#000" stroke-width="0.9"/>
<circle cx="61.93" cy="339.12" r="2.4" fill="none" stroke="#000" stroke-width="0.9"/>
<circle cx="66.69" cy="341.50" r="2.4" fill="none" stroke="#000" stroke-width="0.9"/>
<circle cx="71.44" cy="344.35" r="2.4" fill="none" stroke="#000" stroke-width="0.9"/>
<circle cx="76.19" cy="344.82" r="2.4" fill="none" stroke="#000" stroke-width="0.9"/>
<circle cx="80.95" cy="316.32" r="2.4" fill="none" stroke="#000" stroke-width="0.9"/>
<circle cx="85.70" cy="330.57" r="2.4" fill="none" stroke="#000" stroke-width="0.9"/>
<circle cx="90.46" cy="303.98" r="2.4" fill="none" stroke="#000" stroke-width="0.9"/>
<circle cx="95.22" cy="310.62" r="2.4" fill="none" stroke="#000" stroke-width="0.9"/>
<circle cx="99.97" cy="333.43" r="2.4" fill="none" stroke="#000" stroke-width="0.9"/>
<circle cx="104.72" cy="346.73" r="2.4" fill="none" stroke="#000" stroke-width="0.9"/>
<circle cx="109.48" cy="299.23" r="2.4" fill="none" stroke="#000" stroke-width="0.9"/>
<circle cx="114.23" cy="306.82" r="2.4" fill="none" stroke="#000" stroke-width="0.9"/>
<circle cx="118.99" cy="331.52" r="2.4" fill="none" stroke="#000" stroke-width="0.9"/>
<circle cx="123.75" cy="331.05" r="2.4" fill="none" stroke="#000" stroke-width="0.9"/>
<circle cx="128.50" cy="244.60" r="2.4" fill="none" stroke="#000" stroke-width="0.9"/>
<circle cx="133.25" cy="331.52" r="2.4" fill="none" stroke="#000" stroke-width="0.9"/>
<circle cx="138.01" cy="339.60" r="2.4" fill="none" stroke="#000" stroke-width="0.9"/>
<circle cx="142.76" cy="345.54" r="2.4" fill="none" stroke="#000" stroke-width="0.9"/>
<circle cx="147.52" cy="286.88" r="2.4" fill="none" stroke="#000" stroke-width="0.9"/>
<circle cx="152.28" cy="338.18" r="2.4" fill="none" stroke="#000" stroke-width="0.9"/>
<circle cx="157.03" cy="344.82" r="2.4" fill="none" stroke="#000" stroke-width="0.9"/>
<circle cx="161.78" cy="341.02" r="2.4" fill="none" stroke="#000" stroke-width="0.9"/>
<circle cx="166.54" cy="339.12" r="2.4" fill="none" stroke="#000" stroke-width="0.9"/>
<circle cx="171.30" cy="349.10" r="2.4" fill="none" stroke="#000" stroke-width="0.9"/>
<circle cx="176.05" cy="336.27" r="2.4" fill="none" stroke="#000" stroke-width="0.9"/>
<circle cx="180.81" cy="316.32" r="2.4" fill="none" stroke="#000" stroke-width="0.9"/>
<circle cx="185.56" cy="346.73" r="2.4" fill="none" stroke="#000" stroke-width="0.9"/>
<circle cx="190.31" cy="285.45" r="2.4" fill="none" stroke="#000" stroke-width="0.9"/>
<circle cx="195.07" cy="336.27" r="2.4" fill="none" stroke="#000" stroke-width="0.9"/>
<circle cx="199.83" cy="275.48" r="2.4" fill="none" stroke="#000" stroke-width="0.9"/>
<circle cx="204.58" cy="350.05" r="2.4" fill="none" stroke="#000" stroke-width="0.9"/>
<circle cx="209.34" cy="346.25" r="2.4" fill="none" stroke="#000" stroke-width="0.9"/>
<circle cx="214.09" cy="314.43" r="2.4" fill="none" stroke="#000" stroke-width="0.9"/>
<circle cx="218.84" cy="342.45" r="2.4" fill="none" stroke="#000" stroke-width="0.9"/>
<circle cx="223.60" cy="334.85" r="2.4" fill="none" stroke="#000" stroke-width="0.9"/>
<circle cx="228.36" cy="349.10" r="2.4" fill="none" stroke="#000" stroke-width="0.9"/>
<circle cx="233.11" cy="338.65" r="2.4" fill="none" stroke="#000" stroke-width="0.9"/>
<circle cx="237.87" cy="349.57" r="2.4" fill="none" stroke="#000" stroke-width="0.9"/>
<circle cx="242.62" cy="288.30" r="2.4" fill="none" stroke="#000" stroke-width="0.9"/>
<circle cx="247.38" cy="332.48" r="2.4" fill="none" stroke="#000" stroke-width="0.9"/>
<circle cx="252.13" cy="341.98" r="2.4" fill="none" stroke="#000" stroke-width="0.9"/>
<circle cx="256.88" cy="269.30" r="2.4" fill="none" stroke="#000" stroke-width="0.9"/>
<circle cx="261.64" cy="311.57" r="2.4" fill="none" stroke="#000" stroke-width="0.9"/>
<circle cx="266.39" cy="289.73" r="2.4" fill="none" stroke="#000" stroke-width="0.9"/>
<circle cx="271.15" cy="318.70" r="2.4" fill="none" stroke="#000" stroke-width="0.9"/>
<circle cx="275.90" cy="275.95" r="2.4" fill="none" stroke="#000" stroke-width="0.9"/>
<circle cx="280.66" cy="346.25" r="2.4" fill="none" stroke="#000" stroke-width="0.9"/>
<circle cx="285.41" cy="313.00" r="2.4" fill="none" stroke="#000" stroke-width="0.9"/>
<circle cx="290.17" cy="316.32" r="2.4" fill="none" stroke="#000" stroke-width="0.9"/>
<circle cx="294.92" cy="268.82" r="2.4" fill="none" stroke="#000" stroke-width="0.9"/>
<circle cx="299.68" cy="272.62" r="2.4" fill="none" stroke="#000" stroke-width="0.9"/>
<circle cx="304.44" cy="333.43" r="2.4" fill="none" stroke="#000" stroke-width="0.9"/>
<circle cx="309.19" cy="303.50" r="2.4" fill="none" stroke="#000" stroke-width="0.9"/>
<circle cx="313.94" cy="348.62" r="2.4" fill="none" stroke="#000" stroke-width="0.9"/>
<circle cx="318.70" cy="335.80" r="2.4" fill="none" stroke="#000" stroke-width="0.9"/>
<circle cx="323.45" cy="272.62" r="2.4" fill="none" stroke="#000" stroke-width="0.9"/>
<circle cx="328.21" cy="348.62" r="2.4" fill="none" stroke="#000" stroke-width="0.9"/>
<circle cx="332.96" cy="276.90" r="2.4" fill="none" stroke="#000" stroke-width="0.9"/>
<circle cx="337.72" cy="343.88" r="2.4" fill="none" stroke="#000" stroke-width="0.9"/>
<circle cx="342.47" cy="341.98" r="2.4" fill="none" stroke="#000" stroke-width="0.9"/>
<circle cx="347.23" cy="330.10" r="2.4" fill="none" stroke="#000" stroke-width="0.9"/>
<circle cx="351.98" cy="344.82" r="2.4" fill="none" stroke="#000" stroke-width="0.9"/>
<circle cx="356.74" cy="343.88" r="2.4" fill="none" stroke="#000" stroke-width="0.9"/>
<circle cx="361.50" cy="324.88" r="2.4" fill="none" stroke="#000" stroke-width="0.9"/>
<circle cx="366.25" cy="344.82" r="2.4" fill="none" stroke="#000" stroke-width="0.9"/>
<circle cx="371.00" cy="348.62" r="2.4" fill="none" stroke="#000" stroke-width="0.9"/>
<circle cx="375.76" cy="334.85" r="2.4" fill="none" stroke="#000" stroke-width="0.9"/>
<circle cx="380.51" cy="347.68" r="2.4" fill="none" stroke="#000" stroke-width="0.9"/>
<circle cx="385.27" cy="245.55" r="2.4" fill="none" stroke="#000" stroke-width="0.9"/>
<circle cx="390.02" cy="349.10" r="2.4" fill="none" stroke="#000" stroke-width="0.9"/>
<circle cx="394.78" cy="331.52" r="2.4" fill="none" stroke="#000" stroke-width="0.9"/>
<circle cx="399.53" cy="291.62" r="2.4" fill="none" stroke="#000" stroke-width="0.9"/>
<circle cx="404.29" cy="344.35" r="2.4" fill="none" stroke="#000" stroke-width="0.9"/>
<circle cx="409.04" cy="339.60" r="2.4" fill="none" stroke="#000" stroke-width="0.9"/>
<circle cx="413.80" cy="302.07" r="2.4" fill="none" stroke="#000" stroke-width="0.9"/>
<circle cx="418.55" cy="347.68" r="2.4" fill="none" stroke="#000" stroke-width="0.9"/>
<circle cx="423.31" cy="336.27" r="2.4" fill="none" stroke="#000" stroke-width="0.9"/>
<circle cx="428.06" cy="350.05" r="2.4" fill="none" stroke="#000" stroke-width="0.9"/>
<circle cx="432.82" cy="291.62" r="2.4" fill="none" stroke="#000" stroke-width="0.9"/>
<circle cx="437.57" cy="347.68" r="2.4" fill="none" stroke="#000" stroke-width="0.9"/>
<circle cx="442.33" cy="315.38" r="2.4" fill="none" stroke="#000" stroke-width="0.9"/>
<circle cx="447.08" cy="347.68" r="2.4" fill="none" stroke="#000" stroke-width="0.9"/>
<circle cx="451.84" cy="272.62" r="2.4" fill="none" stroke="#000" stroke-width="0.9"/>
<circle cx="456.59" cy="336.27" r="2.4" fill="none" stroke="#000" stroke-width="0.9"/>
<circle cx="461.35" cy="266.93" r="2.4" fill="none" stroke="#000" stroke-width="0.9"/>
<circle cx="466.10" cy="345.77" r="2.4" fill="none" stroke="#000" stroke-width="0.9"/>
<circle cx="470.86" cy="266.93" r="2.4" fill="none" stroke="#000" stroke-width="0.9"/>
<circle cx="475.61" cy="316.32" r="2.4" fill="none" stroke="#000" stroke-width="0.9"/>
<circle cx="480.37" cy="344.82" r="2.4" fill="none" stroke="#000" stroke-width="0.9"/>
<circle cx="485.12" cy="296.85" r="2.4" fill="none" stroke="#000" stroke-width="0.9"/>
<circle cx="489.88" cy="338.18" r="2.4" fill="none" stroke="#000" stroke-width="0.9"/>
<circle cx="494.63" cy="349.10" r="2.4" fill="none" stroke="#000" stroke-width="0.9"/>
<circle cx="499.39" cy="345.30" r="2.4" fill="none" stroke="#000" stroke-width="0.9"/>
<polyline points="38.16,315.85 42.91,281.18 47.66,341.50 52.42,346.73 57.17,315.38 61.93,330.10 66.69,324.40 71.44,334.85 76.19,341.98 80.95,323.93 85.70,335.80 90.46,312.52 95.22,312.52 99.97,332.95 104.72,346.73 109.48,295.43 114.23,308.25 118.99,331.05 123.75,337.70 128.50,290.20 133.25,327.73 138.01,339.12 142.76,345.30 147.52,282.12 152.28,332.95 157.03,344.35 161.78,340.07 166.54,324.88 171.30,347.20 176.05,334.38 180.81,325.82 185.56,343.88 190.31,282.12 195.07,341.02 199.83,286.40 204.58,347.20 209.34,343.88 214.09,313.95 218.84,343.88 223.60,336.75 228.36,348.15 233.11,336.27 237.87,348.62 242.62,282.12 247.38,335.80 252.13,339.12 256.88,285.45 261.64,313.00 266.39,289.25 271.15,312.52 275.90,282.60 280.66,346.73 285.41,313.00 290.17,308.25 294.92,279.27 299.68,283.55 304.44,333.90 309.19,295.43 313.94,348.15 318.70,335.32 323.45,282.60 328.21,350.05 332.96,284.02 337.72,342.45 342.47,347.20 347.23,339.12 351.98,346.25 356.74,341.98 361.50,324.40 366.25,331.05 371.00,341.50 375.76,334.85 380.51,345.30 385.27,291.62 390.02,347.68 394.78,334.38 399.53,291.62 404.29,342.45 409.04,340.55 413.80,313.71 418.55,350.05 423.31,331.52 428.06,347.20 432.82,286.40 437.57,345.30 442.33,316.80 447.08,347.20 451.84,299.70 456.59,334.38 461.35,280.70 466.10,345.30 470.86,283.55 475.61,323.45 480.37,349.57 485.12,311.57 489.88,332.95 494.63,293.52 499.39,345.30" fill="none" stroke="#ff0000" stroke-width="1" clip-path="url(#cp1)"/>
<path d="M36.26,313.95L40.05,317.75M36.26,317.75L40.05,313.95M41.01,279.28L44.81,283.07M41.01,283.07L44.81,279.28M45.77,339.60L49.56,343.40M45.77,343.40L49.56,339.60M50.52,344.83L54.32,348.62M50.52,348.62L54.32,344.83M55.27,313.48L59.07,317.27M55.27,317.27L59.07,313.48M60.03,328.20L63.83,332.00M60.03,332.00L63.83,328.20M64.78,322.50L68.59,326.30M64.78,326.30L68.59,322.50M69.54,332.95L73.34,336.75M69.54,336.75L73.34,332.95M74.29,340.08L78.09,343.88M74.29,343.88L78.09,340.08M79.05,322.03L82.85,325.82M79.05,325.82L82.85,322.03M83.80,333.90L87.61,337.70M83.80,337.70L87.61,333.90M88.56,310.62L92.36,314.42M88.56,314.42L92.36,310.62M93.31,310.62L97.12,314.42M93.31,314.42L97.12,310.62M98.07,331.05L101.87,334.85M98.07,334.85L101.87,331.05M102.82,344.83L106.62,348.62M102.82,348.62L106.62,344.83M107.58,293.53L111.38,297.32M107.58,297.32L111.38,293.53M112.33,306.35L116.13,310.15M112.33,310.15L116.13,306.35M117.09,329.15L120.89,332.95M117.09,332.95L120.89,329.15M121.84,335.80L125.65,339.60M121.84,339.60L125.65,335.80M126.60,288.30L130.40,292.10M126.60,292.10L130.40,288.30M131.35,325.83L135.16,329.62M131.35,329.62L135.16,325.83M136.11,337.23L139.91,341.02M136.11,341.02L139.91,337.23M140.86,343.40L144.66,347.20M140.86,347.20L144.66,343.40M145.62,280.23L149.42,284.02M145.62,284.02L149.42,280.23M150.38,331.05L154.18,334.85M150.38,334.85L154.18,331.05M155.13,342.45L158.93,346.25M155.13,346.25L158.93,342.45M159.88,338.18L163.69,341.97M159.88,341.97L163.69,338.18M164.64,322.98L168.44,326.77M164.64,326.77L168.44,322.98M169.40,345.30L173.20,349.10M169.40,349.10L173.20,345.30M174.15,332.48L177.95,336.27M174.15,336.27L177.95,332.48M178.91,323.93L182.71,327.72M178.91,327.72L182.71,323.93M183.66,341.98L187.46,345.77M183.66,345.77L187.46,341.98M188.41,280.23L192.22,284.02M188.41,284.02L192.22,280.23M193.17,339.12L196.97,342.92M193.17,342.92L196.97,339.12M197.93,284.50L201.73,288.30M197.93,288.30L201.73,284.50M202.68,345.30L206.48,349.10M202.68,349.10L206.48,345.30M207.44,341.98L211.24,345.77M207.44,345.77L211.24,341.98M212.19,312.05L215.99,315.85M212.19,315.85L215.99,312.05M216.94,341.98L220.75,345.77M216.94,345.77L220.75,341.98M221.70,334.85L225.50,338.65M221.70,338.65L225.50,334.85M226.46,346.25L230.26,350.05M226.46,350.05L230.26,346.25M231.21,334.38L235.01,338.17M231.21,338.17L235.01,334.38M235.97,346.73L239.77,350.52M235.97,350.52L239.77,346.73M240.72,280.23L244.52,284.02M240.72,284.02L244.52,280.23M245.47,333.90L249.28,337.70M245.47,337.70L249.28,333.90M250.23,337.23L254.03,341.02M250.23,341.02L254.03,337.23M254.98,283.55L258.78,287.35M254.98,287.35L258.78,283.55M259.74,311.10L263.54,314.90M259.74,314.90L263.54,311.10M264.50,287.35L268.29,291.15M264.50,291.15L268.29,287.35M269.25,310.62L273.05,314.42M269.25,314.42L273.05,310.62M274.00,280.70L277.80,284.50M274.00,284.50L277.80,280.70M278.76,344.83L282.56,348.62M278.76,348.62L282.56,344.83M283.51,311.10L287.31,314.90M283.51,314.90L287.31,311.10M288.27,306.35L292.07,310.15M288.27,310.15L292.07,306.35M293.02,277.38L296.82,281.17M293.02,281.17L296.82,277.38M297.78,281.65L301.58,285.45M297.78,285.45L301.58,281.65M302.54,332.00L306.33,335.80M302.54,335.80L306.33,332.00M307.29,293.53L311.09,297.32M307.29,297.32L311.09,293.53M312.05,346.25L315.84,350.05M312.05,350.05L315.84,346.25M316.80,333.43L320.60,337.22M316.80,337.22L320.60,333.43M321.56,280.70L325.35,284.50M321.56,284.50L325.35,280.70M326.31,348.15L330.11,351.95M326.31,351.95L330.11,348.15M331.06,282.12L334.86,285.92M331.06,285.92L334.86,282.12M335.82,340.55L339.62,344.35M335.82,344.35L339.62,340.55M340.57,345.30L344.37,349.10M340.57,349.10L344.37,345.30M345.33,337.23L349.13,341.02M345.33,341.02L349.13,337.23M350.08,344.35L353.88,348.15M350.08,348.15L353.88,344.35M354.84,340.08L358.64,343.88M354.84,343.88L358.64,340.08M359.60,322.50L363.39,326.30M359.60,326.30L363.39,322.50M364.35,329.15L368.15,332.95M364.35,332.95L368.15,329.15M369.11,339.60L372.90,343.40M369.11,343.40L372.90,339.60M373.86,332.95L377.66,336.75M373.86,336.75L377.66,332.95M378.62,343.40L382.41,347.20M378.62,347.20L382.41,343.40M383.37,289.73L387.17,293.52M383.37,293.52L387.17,289.73M388.12,345.78L391.92,349.57M388.12,349.57L391.92,345.78M392.88,332.48L396.68,336.27M392.88,336.27L396.68,332.48M397.63,289.73L401.43,293.52M397.63,293.52L401.43,289.73M402.39,340.55L406.19,344.35M402.39,344.35L406.19,340.55M407.14,338.65L410.94,342.45M407.14,342.45L410.94,338.65M411.90,311.81L415.70,315.61M411.90,315.61L415.70,311.81M416.65,348.15L420.45,351.95M416.65,351.95L420.45,348.15M421.41,329.62L425.21,333.42M421.41,333.42L425.21,329.62M426.17,345.30L429.96,349.10M426.17,349.10L429.96,345.30M430.92,284.50L434.72,288.30M430.92,288.30L434.72,284.50M435.68,343.40L439.47,347.20M435.68,347.20L439.47,343.40M440.43,314.90L444.23,318.70M440.43,318.70L444.23,314.90M445.19,345.30L448.98,349.10M445.19,349.10L448.98,345.30M449.94,297.80L453.74,301.60M449.94,301.60L453.74,297.80M454.69,332.48L458.49,336.27M454.69,336.27L458.49,332.48M459.45,278.80L463.25,282.60M459.45,282.60L463.25,278.80M464.20,343.40L468.00,347.20M464.20,347.20L468.00,343.40M468.96,281.65L472.76,285.45M468.96,285.45L472.76,281.65M473.71,321.55L477.51,325.35M473.71,325.35L477.51,321.55M478.47,347.68L482.27,351.47M478.47,351.47L482.27,347.68M483.23,309.68L487.02,313.47M483.23,313.47L487.02,309.68M487.98,331.05L491.78,334.85M487.98,334.85L491.78,331.05M492.74,291.62L496.53,295.42M492.74,295.42L496.53,291.62M497.49,343.40L501.29,347.20M497.49,347.20L501.29,343.40" stroke="#000" stroke-width="1" fill="none"/>
<rect x="33.4" y="232.2" width="475.50" height="127.90" fill="none" stroke="#333333" stroke-width="1.1"/>
<text x="33.40" y="374.90" text-anchor="middle" class="t">0</text>
<text x="80.95" y="374.90" text-anchor="middle" class="t">10</text>
<text x="128.50" y="374.90" text-anchor="middle" class="t">20</text>
<text x="176.05" y="374.90" text-anchor="middle" class="t">30</text>
<text x="223.60" y="374.90" text-anchor="middle" class="t">40</text>
<text x="271.15" y="374.90" text-anchor="middle" class="t">50</text>
<text x="318.70" y="374.90" text-anchor="middle" class="t">60</text>
<text x="366.25" y="374.90" text-anchor="middle" class="t">70</text>
<text x="413.80" y="374.90" text-anchor="middle" class="t">80</text>
<text x="461.35" y="374.90" text-anchor="middle" class="t">90</text>
<text x="508.90" y="374.90" text-anchor="middle" class="t">100</text>
<text x="29.3" y="354.90" text-anchor="end" class="t">0</text>
<text x="29.3" y="331.15" text-anchor="end" class="t">0.5</text>
<text x="29.3" y="307.40" text-anchor="end" class="t">1</text>
<text x="29.3" y="283.65" text-anchor="end" class="t">1.5</text>
<text x="29.3" y="259.90" text-anchor="end" class="t">2</text>
<text x="29.3" y="236.15" text-anchor="end" class="t">2.5</text>
<path d="M80.95,360.10V355.10M80.95,232.20V237.20M128.50,360.10V355.10M128.50,232.20V237.20M176.05,360.10V355.10M176.05,232.20V237.20M223.60,360.10V355.10M223.60,232.20V237.20M271.15,360.10V355.10M271.15,232.20V237.20M318.70,360.10V355.10M318.70,232.20V237.20M366.25,360.10V355.10M366.25,232.20V237.20M413.80,360.10V355.10M413.80,232.20V237.20M461.35,360.10V355.10M461.35,232.20V237.20M33.4,351.00H38.40M508.9,351.00H503.90M33.4,327.25H38.40M508.9,327.25H503.90M33.4,303.50H38.40M508.9,303.50H503.90M33.4,279.75H38.40M508.9,279.75H503.90M33.4,256.00H38.40M508.9,256.00H503.90" stroke="#333333" stroke-width="1.1" fill="none"/>
<rect x="428.5" y="238.30" width="74" height="28.6" fill="#fff" stroke="#333333" stroke-width="1.1"/>
<line x1="431.2" y1="245.90" x2="454.8" y2="245.90" stroke="#0000ff" stroke-width="1"/>
<circle cx="443" cy="245.90" r="2.4" fill="none" stroke="#000" stroke-width="0.9"/>
<line x1="431.2" y1="259.30" x2="454.8" y2="259.30" stroke="#ff0000" stroke-width="1"/>
<path d="M441.1,257.40L444.9,261.20M441.1,261.20L444.9,257.40" stroke="#000" stroke-width="1"/>
<text x="457.1" y="250.10" class="l">Actual</text>
<text x="457.1" y="263.20" class="l">Predicted</text>
<g transform="translate(586.10,387.50)"><text x="0" y="0" class="al">Measured</text><text x="52.9" y="0" class="al" font-style="italic">C</text><text x="60.4" y="2.2" class="al" font-style="italic" style="font-size:8.5px">d</text></g>
<g transform="translate(539.30,329.60) rotate(-90)"><text x="0" y="0" class="al">Predicted</text><text x="52.9" y="0" class="al" font-style="italic">C</text><text x="60.4" y="2.2" class="al" font-style="italic" style="font-size:8.5px">d</text></g>
<text x="560.9" y="253.80" class="l">R² = 0.8397</text>
<circle cx="592.51" cy="328.73" r="2.7" fill="none" stroke="#2a2aff" stroke-width="0.7"/>
<circle cx="613.44" cy="297.58" r="2.7" fill="none" stroke="#2a2aff" stroke-width="0.7"/>
<circle cx="565.16" cy="351.77" r="2.7" fill="none" stroke="#2a2aff" stroke-width="0.7"/>
<circle cx="562.16" cy="356.46" r="2.7" fill="none" stroke="#2a2aff" stroke-width="0.7"/>
<circle cx="589.09" cy="328.30" r="2.7" fill="none" stroke="#2a2aff" stroke-width="0.7"/>
<circle cx="565.58" cy="341.53" r="2.7" fill="none" stroke="#2a2aff" stroke-width="0.7"/>
<circle cx="563.45" cy="336.41" r="2.7" fill="none" stroke="#2a2aff" stroke-width="0.7"/>
<circle cx="560.88" cy="345.79" r="2.7" fill="none" stroke="#2a2aff" stroke-width="0.7"/>
<circle cx="560.46" cy="352.19" r="2.7" fill="none" stroke="#2a2aff" stroke-width="0.7"/>
<circle cx="586.10" cy="335.98" r="2.7" fill="none" stroke="#2a2aff" stroke-width="0.7"/>
<circle cx="573.28" cy="346.65" r="2.7" fill="none" stroke="#2a2aff" stroke-width="0.7"/>
<circle cx="597.21" cy="325.74" r="2.7" fill="none" stroke="#2a2aff" stroke-width="0.7"/>
<circle cx="591.22" cy="325.74" r="2.7" fill="none" stroke="#2a2aff" stroke-width="0.7"/>
<circle cx="570.71" cy="344.09" r="2.7" fill="none" stroke="#2a2aff" stroke-width="0.7"/>
<circle cx="558.75" cy="356.46" r="2.7" fill="none" stroke="#2a2aff" stroke-width="0.7"/>
<circle cx="601.48" cy="310.38" r="2.7" fill="none" stroke="#2a2aff" stroke-width="0.7"/>
<circle cx="594.64" cy="321.90" r="2.7" fill="none" stroke="#2a2aff" stroke-width="0.7"/>
<circle cx="572.42" cy="342.38" r="2.7" fill="none" stroke="#2a2aff" stroke-width="0.7"/>
<circle cx="572.85" cy="348.35" r="2.7" fill="none" stroke="#2a2aff" stroke-width="0.7"/>
<circle cx="650.62" cy="305.69" r="2.7" fill="none" stroke="#2a2aff" stroke-width="0.7"/>
<circle cx="572.42" cy="339.39" r="2.7" fill="none" stroke="#2a2aff" stroke-width="0.7"/>
<circle cx="565.16" cy="349.63" r="2.7" fill="none" stroke="#2a2aff" stroke-width="0.7"/>
<circle cx="559.81" cy="355.18" r="2.7" fill="none" stroke="#2a2aff" stroke-width="0.7"/>
<circle cx="612.59" cy="298.43" r="2.7" fill="none" stroke="#2a2aff" stroke-width="0.7"/>
<circle cx="566.44" cy="344.09" r="2.7" fill="none" stroke="#2a2aff" stroke-width="0.7"/>
<circle cx="560.46" cy="354.33" r="2.7" fill="none" stroke="#2a2aff" stroke-width="0.7"/>
<circle cx="563.87" cy="350.49" r="2.7" fill="none" stroke="#2a2aff" stroke-width="0.7"/>
<circle cx="565.58" cy="336.83" r="2.7" fill="none" stroke="#2a2aff" stroke-width="0.7"/>
<circle cx="556.61" cy="356.89" r="2.7" fill="none" stroke="#2a2aff" stroke-width="0.7"/>
<circle cx="568.15" cy="345.37" r="2.7" fill="none" stroke="#2a2aff" stroke-width="0.7"/>
<circle cx="586.10" cy="337.69" r="2.7" fill="none" stroke="#2a2aff" stroke-width="0.7"/>
<circle cx="558.75" cy="353.90" r="2.7" fill="none" stroke="#2a2aff" stroke-width="0.7"/>
<circle cx="613.87" cy="298.43" r="2.7" fill="none" stroke="#2a2aff" stroke-width="0.7"/>
<circle cx="568.15" cy="351.34" r="2.7" fill="none" stroke="#2a2aff" stroke-width="0.7"/>
<circle cx="622.85" cy="302.27" r="2.7" fill="none" stroke="#2a2aff" stroke-width="0.7"/>
<circle cx="555.75" cy="356.89" r="2.7" fill="none" stroke="#2a2aff" stroke-width="0.7"/>
<circle cx="559.17" cy="353.90" r="2.7" fill="none" stroke="#2a2aff" stroke-width="0.7"/>
<circle cx="587.80" cy="327.02" r="2.7" fill="none" stroke="#2a2aff" stroke-width="0.7"/>
<circle cx="562.59" cy="353.90" r="2.7" fill="none" stroke="#2a2aff" stroke-width="0.7"/>
<circle cx="569.43" cy="347.50" r="2.7" fill="none" stroke="#2a2aff" stroke-width="0.7"/>
<circle cx="556.61" cy="357.74" r="2.7" fill="none" stroke="#2a2aff" stroke-width="0.7"/>
<circle cx="566.01" cy="347.07" r="2.7" fill="none" stroke="#2a2aff" stroke-width="0.7"/>
<circle cx="556.18" cy="358.17" r="2.7" fill="none" stroke="#2a2aff" stroke-width="0.7"/>
<circle cx="611.31" cy="298.43" r="2.7" fill="none" stroke="#2a2aff" stroke-width="0.7"/>
<circle cx="571.57" cy="346.65" r="2.7" fill="none" stroke="#2a2aff" stroke-width="0.7"/>
<circle cx="563.02" cy="349.63" r="2.7" fill="none" stroke="#2a2aff" stroke-width="0.7"/>
<circle cx="628.40" cy="301.42" r="2.7" fill="none" stroke="#2a2aff" stroke-width="0.7"/>
<circle cx="590.37" cy="326.17" r="2.7" fill="none" stroke="#2a2aff" stroke-width="0.7"/>
<circle cx="610.03" cy="304.83" r="2.7" fill="none" stroke="#2a2aff" stroke-width="0.7"/>
<circle cx="583.96" cy="325.74" r="2.7" fill="none" stroke="#2a2aff" stroke-width="0.7"/>
<circle cx="622.42" cy="298.86" r="2.7" fill="none" stroke="#2a2aff" stroke-width="0.7"/>
<circle cx="559.17" cy="356.46" r="2.7" fill="none" stroke="#2a2aff" stroke-width="0.7"/>
<circle cx="589.09" cy="326.17" r="2.7" fill="none" stroke="#2a2aff" stroke-width="0.7"/>
<circle cx="586.10" cy="321.90" r="2.7" fill="none" stroke="#2a2aff" stroke-width="0.7"/>
<circle cx="628.83" cy="295.87" r="2.7" fill="none" stroke="#2a2aff" stroke-width="0.7"/>
<circle cx="625.41" cy="299.71" r="2.7" fill="none" stroke="#2a2aff" stroke-width="0.7"/>
<circle cx="570.71" cy="344.94" r="2.7" fill="none" stroke="#2a2aff" stroke-width="0.7"/>
<circle cx="597.63" cy="310.38" r="2.7" fill="none" stroke="#2a2aff" stroke-width="0.7"/>
<circle cx="557.04" cy="357.74" r="2.7" fill="none" stroke="#2a2aff" stroke-width="0.7"/>
<circle cx="568.57" cy="346.22" r="2.7" fill="none" stroke="#2a2aff" stroke-width="0.7"/>
<circle cx="625.41" cy="298.86" r="2.7" fill="none" stroke="#2a2aff" stroke-width="0.7"/>
<circle cx="557.04" cy="359.45" r="2.7" fill="none" stroke="#2a2aff" stroke-width="0.7"/>
<circle cx="621.56" cy="300.14" r="2.7" fill="none" stroke="#2a2aff" stroke-width="0.7"/>
<circle cx="561.31" cy="352.62" r="2.7" fill="none" stroke="#2a2aff" stroke-width="0.7"/>
<circle cx="563.02" cy="356.89" r="2.7" fill="none" stroke="#2a2aff" stroke-width="0.7"/>
<circle cx="573.70" cy="349.63" r="2.7" fill="none" stroke="#2a2aff" stroke-width="0.7"/>
<circle cx="560.46" cy="356.03" r="2.7" fill="none" stroke="#2a2aff" stroke-width="0.7"/>
<circle cx="561.31" cy="352.19" r="2.7" fill="none" stroke="#2a2aff" stroke-width="0.7"/>
<circle cx="578.40" cy="336.41" r="2.7" fill="none" stroke="#2a2aff" stroke-width="0.7"/>
<circle cx="560.46" cy="342.38" r="2.7" fill="none" stroke="#2a2aff" stroke-width="0.7"/>
<circle cx="557.04" cy="351.77" r="2.7" fill="none" stroke="#2a2aff" stroke-width="0.7"/>
<circle cx="569.43" cy="345.79" r="2.7" fill="none" stroke="#2a2aff" stroke-width="0.7"/>
<circle cx="557.89" cy="355.18" r="2.7" fill="none" stroke="#2a2aff" stroke-width="0.7"/>
<circle cx="649.77" cy="306.97" r="2.7" fill="none" stroke="#2a2aff" stroke-width="0.7"/>
<circle cx="556.61" cy="357.31" r="2.7" fill="none" stroke="#2a2aff" stroke-width="0.7"/>
<circle cx="572.42" cy="345.37" r="2.7" fill="none" stroke="#2a2aff" stroke-width="0.7"/>
<circle cx="608.32" cy="306.97" r="2.7" fill="none" stroke="#2a2aff" stroke-width="0.7"/>
<circle cx="560.88" cy="352.62" r="2.7" fill="none" stroke="#2a2aff" stroke-width="0.7"/>
<circle cx="565.16" cy="350.91" r="2.7" fill="none" stroke="#2a2aff" stroke-width="0.7"/>
<circle cx="598.92" cy="326.81" r="2.7" fill="none" stroke="#2a2aff" stroke-width="0.7"/>
<circle cx="557.89" cy="359.45" r="2.7" fill="none" stroke="#2a2aff" stroke-width="0.7"/>
<circle cx="568.15" cy="342.81" r="2.7" fill="none" stroke="#2a2aff" stroke-width="0.7"/>
<circle cx="555.75" cy="356.89" r="2.7" fill="none" stroke="#2a2aff" stroke-width="0.7"/>
<circle cx="608.32" cy="302.27" r="2.7" fill="none" stroke="#2a2aff" stroke-width="0.7"/>
<circle cx="557.89" cy="355.18" r="2.7" fill="none" stroke="#2a2aff" stroke-width="0.7"/>
<circle cx="586.95" cy="329.58" r="2.7" fill="none" stroke="#2a2aff" stroke-width="0.7"/>
<circle cx="557.89" cy="356.89" r="2.7" fill="none" stroke="#2a2aff" stroke-width="0.7"/>
<circle cx="625.41" cy="314.22" r="2.7" fill="none" stroke="#2a2aff" stroke-width="0.7"/>
<circle cx="568.15" cy="345.37" r="2.7" fill="none" stroke="#2a2aff" stroke-width="0.7"/>
<circle cx="630.54" cy="297.15" r="2.7" fill="none" stroke="#2a2aff" stroke-width="0.7"/>
<circle cx="559.60" cy="355.18" r="2.7" fill="none" stroke="#2a2aff" stroke-width="0.7"/>
<circle cx="630.54" cy="299.71" r="2.7" fill="none" stroke="#2a2aff" stroke-width="0.7"/>
<circle cx="586.10" cy="335.55" r="2.7" fill="none" stroke="#2a2aff" stroke-width="0.7"/>
<circle cx="560.46" cy="359.02" r="2.7" fill="none" stroke="#2a2aff" stroke-width="0.7"/>
<circle cx="603.62" cy="324.89" r="2.7" fill="none" stroke="#2a2aff" stroke-width="0.7"/>
<circle cx="566.44" cy="344.09" r="2.7" fill="none" stroke="#2a2aff" stroke-width="0.7"/>
<circle cx="556.61" cy="308.67" r="2.7" fill="none" stroke="#2a2aff" stroke-width="0.7"/>
<circle cx="560.03" cy="355.18" r="2.7" fill="none" stroke="#2a2aff" stroke-width="0.7"/>
<line x1="554.9" y1="360.30" x2="683.1" y2="232.30" stroke="#ff0000" stroke-width="1.2" stroke-dasharray="5 3"/>
<rect x="554.9" y="232.30" width="128.20" height="128.00" fill="none" stroke="#333333" stroke-width="1.1"/>
<text x="554.90" y="374.90" text-anchor="middle" class="t">0</text>
<text x="551.0" y="364.20" text-anchor="end" class="t">0</text>
<text x="597.63" y="374.90" text-anchor="middle" class="t">1</text>
<text x="551.0" y="321.53" text-anchor="end" class="t">1</text>
<text x="640.37" y="374.90" text-anchor="middle" class="t">2</text>
<text x="551.0" y="278.87" text-anchor="end" class="t">2</text>
<text x="683.10" y="374.90" text-anchor="middle" class="t">3</text>
<text x="551.0" y="236.20" text-anchor="end" class="t">3</text>
<path d="M597.63,360.30V359.00M597.63,232.30V233.60M554.9,317.63H556.20M683.1,317.63H681.80M640.37,360.30V359.00M640.37,232.30V233.60M554.9,274.97H556.20M683.1,274.97H681.80" stroke="#333333" stroke-width="1.1" fill="none"/>
<text x="271.2" y="617.30" text-anchor="middle" class="l">Testing dataset</text>
<g transform="translate(8.90,558.30) rotate(-90)"><text x="0" y="0" class="al">Measured</text><text x="52.9" y="0" class="al" font-style="italic">C</text><text x="60.4" y="2.2" class="al" font-style="italic" style="font-size:8.5px">d</text></g>
<text x="271.1" y="652.00" text-anchor="middle" class="cap">(c)</text>
<clipPath id="cp2"><rect x="33.4" y="460.8" width="475.50" height="127.90"/></clipPath>
<polyline points="38.16,537.80 42.91,514.52 47.66,568.20 52.42,571.52 57.17,541.60 61.93,567.73 66.69,570.10 71.44,572.95 76.19,573.43 80.95,544.93 85.70,559.18 90.46,532.58 95.22,539.23 99.97,562.02 104.72,575.33 109.48,527.83 114.23,535.43 118.99,560.12 123.75,559.65 128.50,473.20 133.25,560.12 138.01,568.20 142.76,574.14 147.52,515.48 152.28,566.77 157.03,573.43 161.78,569.62 166.54,567.73 171.30,577.70 176.05,564.88 180.81,544.93 185.56,575.33 190.31,514.05 195.07,564.88 199.83,504.08 204.58,578.65 209.34,574.85 214.09,543.02 218.84,571.05 223.60,563.45 228.36,577.70 233.11,567.25 237.87,578.18 242.62,516.90 247.38,561.08 252.13,570.58 256.88,497.90 261.64,540.18 266.39,518.33 271.15,547.30 275.90,504.55 280.66,574.85 285.41,541.60 290.17,544.93 294.92,497.43 299.68,501.23 304.44,562.02 309.19,532.10 313.94,577.23 318.70,564.40 323.45,501.23 328.21,577.23 332.96,505.50 337.72,572.48 342.47,570.58 347.23,558.70 351.98,573.43 356.74,572.48 361.50,553.48 366.25,573.43 371.00,577.23 375.76,563.45 380.51,576.27 385.27,474.15 390.02,577.70 394.78,560.12 399.53,520.23 404.29,572.95 409.04,568.20 413.80,530.68 418.55,576.27 423.31,564.88 428.06,578.65 432.82,520.23 437.57,576.27 442.33,543.98 447.08,576.27 451.84,501.23 456.59,564.88 461.35,495.53 466.10,574.38 470.86,495.53 475.61,544.93 480.37,573.43 485.12,525.45 489.88,566.77 494.63,577.70 499.39,573.90" fill="none" stroke="#0000ff" stroke-width="1" clip-path="url(#cp2)"/>
<circle cx="38.16" cy="537.80" r="2.4" fill="none" stroke="#000" stroke-width="0.9"/>
<circle cx="42.91" cy="514.52" r="2.4" fill="none" stroke="#000" stroke-width="0.9"/>
<circle cx="47.66" cy="568.20" r="2.4" fill="none" stroke="#000" stroke-width="0.9"/>
<circle cx="52.42" cy="571.52" r="2.4" fill="none" stroke="#000" stroke-width="0.9"/>
<circle cx="57.17" cy="541.60" r="2.4" fill="none" stroke="#000" stroke-width="0.9"/>
<circle cx="61.93" cy="567.73" r="2.4" fill="none" stroke="#000" stroke-width="0.9"/>
<circle cx="66.69" cy="570.10" r="2.4" fill="none" stroke="#000" stroke-width="0.9"/>
<circle cx="71.44" cy="572.95" r="2.4" fill="none" stroke="#000" stroke-width="0.9"/>
<circle cx="76.19" cy="573.43" r="2.4" fill="none" stroke="#000" stroke-width="0.9"/>
<circle cx="80.95" cy="544.93" r="2.4" fill="none" stroke="#000" stroke-width="0.9"/>
<circle cx="85.70" cy="559.18" r="2.4" fill="none" stroke="#000" stroke-width="0.9"/>
<circle cx="90.46" cy="532.58" r="2.4" fill="none" stroke="#000" stroke-width="0.9"/>
<circle cx="95.22" cy="539.23" r="2.4" fill="none" stroke="#000" stroke-width="0.9"/>
<circle cx="99.97" cy="562.02" r="2.4" fill="none" stroke="#000" stroke-width="0.9"/>
<circle cx="104.72" cy="575.33" r="2.4" fill="none" stroke="#000" stroke-width="0.9"/>
<circle cx="109.48" cy="527.83" r="2.4" fill="none" stroke="#000" stroke-width="0.9"/>
<circle cx="114.23" cy="535.43" r="2.4" fill="none" stroke="#000" stroke-width="0.9"/>
<circle cx="118.99" cy="560.12" r="2.4" fill="none" stroke="#000" stroke-width="0.9"/>
<circle cx="123.75" cy="559.65" r="2.4" fill="none" stroke="#000" stroke-width="0.9"/>
<circle cx="128.50" cy="473.20" r="2.4" fill="none" stroke="#000" stroke-width="0.9"/>
<circle cx="133.25" cy="560.12" r="2.4" fill="none" stroke="#000" stroke-width="0.9"/>
<circle cx="138.01" cy="568.20" r="2.4" fill="none" stroke="#000" stroke-width="0.9"/>
<circle cx="142.76" cy="574.14" r="2.4" fill="none" stroke="#000" stroke-width="0.9"/>
<circle cx="147.52" cy="515.48" r="2.4" fill="none" stroke="#000" stroke-width="0.9"/>
<circle cx="152.28" cy="566.77" r="2.4" fill="none" stroke="#000" stroke-width="0.9"/>
<circle cx="157.03" cy="573.43" r="2.4" fill="none" stroke="#000" stroke-width="0.9"/>
<circle cx="161.78" cy="569.62" r="2.4" fill="none" stroke="#000" stroke-width="0.9"/>
<circle cx="166.54" cy="567.73" r="2.4" fill="none" stroke="#000" stroke-width="0.9"/>
<circle cx="171.30" cy="577.70" r="2.4" fill="none" stroke="#000" stroke-width="0.9"/>
<circle cx="176.05" cy="564.88" r="2.4" fill="none" stroke="#000" stroke-width="0.9"/>
<circle cx="180.81" cy="544.93" r="2.4" fill="none" stroke="#000" stroke-width="0.9"/>
<circle cx="185.56" cy="575.33" r="2.4" fill="none" stroke="#000" stroke-width="0.9"/>
<circle cx="190.31" cy="514.05" r="2.4" fill="none" stroke="#000" stroke-width="0.9"/>
<circle cx="195.07" cy="564.88" r="2.4" fill="none" stroke="#000" stroke-width="0.9"/>
<circle cx="199.83" cy="504.08" r="2.4" fill="none" stroke="#000" stroke-width="0.9"/>
<circle cx="204.58" cy="578.65" r="2.4" fill="none" stroke="#000" stroke-width="0.9"/>
<circle cx="209.34" cy="574.85" r="2.4" fill="none" stroke="#000" stroke-width="0.9"/>
<circle cx="214.09" cy="543.02" r="2.4" fill="none" stroke="#000" stroke-width="0.9"/>
<circle cx="218.84" cy="571.05" r="2.4" fill="none" stroke="#000" stroke-width="0.9"/>
<circle cx="223.60" cy="563.45" r="2.4" fill="none" stroke="#000" stroke-width="0.9"/>
<circle cx="228.36" cy="577.70" r="2.4" fill="none" stroke="#000" stroke-width="0.9"/>
<circle cx="233.11" cy="567.25" r="2.4" fill="none" stroke="#000" stroke-width="0.9"/>
<circle cx="237.87" cy="578.18" r="2.4" fill="none" stroke="#000" stroke-width="0.9"/>
<circle cx="242.62" cy="516.90" r="2.4" fill="none" stroke="#000" stroke-width="0.9"/>
<circle cx="247.38" cy="561.08" r="2.4" fill="none" stroke="#000" stroke-width="0.9"/>
<circle cx="252.13" cy="570.58" r="2.4" fill="none" stroke="#000" stroke-width="0.9"/>
<circle cx="256.88" cy="497.90" r="2.4" fill="none" stroke="#000" stroke-width="0.9"/>
<circle cx="261.64" cy="540.18" r="2.4" fill="none" stroke="#000" stroke-width="0.9"/>
<circle cx="266.39" cy="518.33" r="2.4" fill="none" stroke="#000" stroke-width="0.9"/>
<circle cx="271.15" cy="547.30" r="2.4" fill="none" stroke="#000" stroke-width="0.9"/>
<circle cx="275.90" cy="504.55" r="2.4" fill="none" stroke="#000" stroke-width="0.9"/>
<circle cx="280.66" cy="574.85" r="2.4" fill="none" stroke="#000" stroke-width="0.9"/>
<circle cx="285.41" cy="541.60" r="2.4" fill="none" stroke="#000" stroke-width="0.9"/>
<circle cx="290.17" cy="544.93" r="2.4" fill="none" stroke="#000" stroke-width="0.9"/>
<circle cx="294.92" cy="497.43" r="2.4" fill="none" stroke="#000" stroke-width="0.9"/>
<circle cx="299.68" cy="501.23" r="2.4" fill="none" stroke="#000" stroke-width="0.9"/>
<circle cx="304.44" cy="562.02" r="2.4" fill="none" stroke="#000" stroke-width="0.9"/>
<circle cx="309.19" cy="532.10" r="2.4" fill="none" stroke="#000" stroke-width="0.9"/>
<circle cx="313.94" cy="577.23" r="2.4" fill="none" stroke="#000" stroke-width="0.9"/>
<circle cx="318.70" cy="564.40" r="2.4" fill="none" stroke="#000" stroke-width="0.9"/>
<circle cx="323.45" cy="501.23" r="2.4" fill="none" stroke="#000" stroke-width="0.9"/>
<circle cx="328.21" cy="577.23" r="2.4" fill="none" stroke="#000" stroke-width="0.9"/>
<circle cx="332.96" cy="505.50" r="2.4" fill="none" stroke="#000" stroke-width="0.9"/>
<circle cx="337.72" cy="572.48" r="2.4" fill="none" stroke="#000" stroke-width="0.9"/>
<circle cx="342.47" cy="570.58" r="2.4" fill="none" stroke="#000" stroke-width="0.9"/>
<circle cx="347.23" cy="558.70" r="2.4" fill="none" stroke="#000" stroke-width="0.9"/>
<circle cx="351.98" cy="573.43" r="2.4" fill="none" stroke="#000" stroke-width="0.9"/>
<circle cx="356.74" cy="572.48" r="2.4" fill="none" stroke="#000" stroke-width="0.9"/>
<circle cx="361.50" cy="553.48" r="2.4" fill="none" stroke="#000" stroke-width="0.9"/>
<circle cx="366.25" cy="573.43" r="2.4" fill="none" stroke="#000" stroke-width="0.9"/>
<circle cx="371.00" cy="577.23" r="2.4" fill="none" stroke="#000" stroke-width="0.9"/>
<circle cx="375.76" cy="563.45" r="2.4" fill="none" stroke="#000" stroke-width="0.9"/>
<circle cx="380.51" cy="576.27" r="2.4" fill="none" stroke="#000" stroke-width="0.9"/>
<circle cx="385.27" cy="474.15" r="2.4" fill="none" stroke="#000" stroke-width="0.9"/>
<circle cx="390.02" cy="577.70" r="2.4" fill="none" stroke="#000" stroke-width="0.9"/>
<circle cx="394.78" cy="560.12" r="2.4" fill="none" stroke="#000" stroke-width="0.9"/>
<circle cx="399.53" cy="520.23" r="2.4" fill="none" stroke="#000" stroke-width="0.9"/>
<circle cx="404.29" cy="572.95" r="2.4" fill="none" stroke="#000" stroke-width="0.9"/>
<circle cx="409.04" cy="568.20" r="2.4" fill="none" stroke="#000" stroke-width="0.9"/>
<circle cx="413.80" cy="530.68" r="2.4" fill="none" stroke="#000" stroke-width="0.9"/>
<circle cx="418.55" cy="576.27" r="2.4" fill="none" stroke="#000" stroke-width="0.9"/>
<circle cx="423.31" cy="564.88" r="2.4" fill="none" stroke="#000" stroke-width="0.9"/>
<circle cx="428.06" cy="578.65" r="2.4" fill="none" stroke="#000" stroke-width="0.9"/>
<circle cx="432.82" cy="520.23" r="2.4" fill="none" stroke="#000" stroke-width="0.9"/>
<circle cx="437.57" cy="576.27" r="2.4" fill="none" stroke="#000" stroke-width="0.9"/>
<circle cx="442.33" cy="543.98" r="2.4" fill="none" stroke="#000" stroke-width="0.9"/>
<circle cx="447.08" cy="576.27" r="2.4" fill="none" stroke="#000" stroke-width="0.9"/>
<circle cx="451.84" cy="501.23" r="2.4" fill="none" stroke="#000" stroke-width="0.9"/>
<circle cx="456.59" cy="564.88" r="2.4" fill="none" stroke="#000" stroke-width="0.9"/>
<circle cx="461.35" cy="495.53" r="2.4" fill="none" stroke="#000" stroke-width="0.9"/>
<circle cx="466.10" cy="574.38" r="2.4" fill="none" stroke="#000" stroke-width="0.9"/>
<circle cx="470.86" cy="495.53" r="2.4" fill="none" stroke="#000" stroke-width="0.9"/>
<circle cx="475.61" cy="544.93" r="2.4" fill="none" stroke="#000" stroke-width="0.9"/>
<circle cx="480.37" cy="573.43" r="2.4" fill="none" stroke="#000" stroke-width="0.9"/>
<circle cx="485.12" cy="525.45" r="2.4" fill="none" stroke="#000" stroke-width="0.9"/>
<circle cx="489.88" cy="566.77" r="2.4" fill="none" stroke="#000" stroke-width="0.9"/>
<circle cx="494.63" cy="577.70" r="2.4" fill="none" stroke="#000" stroke-width="0.9"/>
<circle cx="499.39" cy="573.90" r="2.4" fill="none" stroke="#000" stroke-width="0.9"/>
<polyline points="38.16,544.93 42.91,507.88 47.66,569.62 52.42,574.85 57.17,544.45 61.93,560.12 66.69,555.85 71.44,563.45 76.19,569.62 80.95,549.20 85.70,563.93 90.46,542.08 95.22,538.75 99.97,562.98 104.72,574.85 109.48,524.50 114.23,537.80 118.99,559.18 123.75,565.83 128.50,516.90 133.25,557.27 138.01,567.73 142.76,572.00 147.52,508.35 152.28,562.98 157.03,572.48 161.78,568.68 166.54,556.33 171.30,575.80 176.05,562.50 180.81,554.90 185.56,572.00 190.31,508.83 195.07,569.62 199.83,513.10 204.58,575.33 209.34,571.05 214.09,542.55 218.84,570.10 223.60,564.88 228.36,577.23 233.11,564.88 237.87,574.38 242.62,509.30 247.38,565.35 252.13,568.20 256.88,512.15 261.64,543.02 266.39,517.85 271.15,542.55 275.90,510.25 280.66,574.85 285.41,541.12 290.17,539.23 294.92,505.98 299.68,510.73 304.44,562.98 309.19,524.50 313.94,575.80 318.70,563.93 323.45,509.30 328.21,577.23 332.96,510.73 337.72,570.10 342.47,574.38 347.23,566.30 351.98,572.48 356.74,571.05 361.50,553.48 366.25,561.55 371.00,570.10 375.76,563.93 380.51,571.05 385.27,517.38 390.02,575.33 394.78,564.40 399.53,519.75 404.29,569.15 409.04,568.20 413.80,543.50 418.55,575.80 423.31,562.98 428.06,572.48 432.82,514.52 437.57,572.48 442.33,545.40 447.08,575.80 451.84,536.38 456.59,563.45 461.35,504.08 466.10,574.38 470.86,511.20 475.61,549.20 480.37,575.33 485.12,542.55 489.88,562.50 494.63,522.60 499.39,573.43" fill="none" stroke="#ff0000" stroke-width="1" clip-path="url(#cp2)"/>
<path d="M36.26,543.03L40.05,546.83M36.26,546.83L40.05,543.03M41.01,505.98L44.81,509.77M41.01,509.77L44.81,505.98M45.77,567.73L49.56,571.52M45.77,571.52L49.56,567.73M50.52,572.95L54.32,576.75M50.52,576.75L54.32,572.95M55.27,542.55L59.07,546.35M55.27,546.35L59.07,542.55M60.03,558.23L63.83,562.02M60.03,562.02L63.83,558.23M64.78,553.95L68.59,557.75M64.78,557.75L68.59,553.95M69.54,561.55L73.34,565.35M69.54,565.35L73.34,561.55M74.29,567.73L78.09,571.52M74.29,571.52L78.09,567.73M79.05,547.30L82.85,551.10M79.05,551.10L82.85,547.30M83.80,562.03L87.61,565.83M83.80,565.83L87.61,562.03M88.56,540.18L92.36,543.98M88.56,543.98L92.36,540.18M93.31,536.85L97.12,540.65M93.31,540.65L97.12,536.85M98.07,561.08L101.87,564.88M98.07,564.88L101.87,561.08M102.82,572.95L106.62,576.75M102.82,576.75L106.62,572.95M107.58,522.60L111.38,526.40M107.58,526.40L111.38,522.60M112.33,535.90L116.13,539.70M112.33,539.70L116.13,535.90M117.09,557.28L120.89,561.08M117.09,561.08L120.89,557.28M121.84,563.93L125.65,567.73M121.84,567.73L125.65,563.93M126.60,515.00L130.40,518.80M126.60,518.80L130.40,515.00M131.35,555.38L135.16,559.17M131.35,559.17L135.16,555.38M136.11,565.83L139.91,569.62M136.11,569.62L139.91,565.83M140.86,570.10L144.66,573.90M140.86,573.90L144.66,570.10M145.62,506.45L149.42,510.25M145.62,510.25L149.42,506.45M150.38,561.08L154.18,564.88M150.38,564.88L154.18,561.08M155.13,570.58L158.93,574.38M155.13,574.38L158.93,570.58M159.88,566.78L163.69,570.58M159.88,570.58L163.69,566.78M164.64,554.43L168.44,558.23M164.64,558.23L168.44,554.43M169.40,573.90L173.20,577.70M169.40,577.70L173.20,573.90M174.15,560.60L177.95,564.40M174.15,564.40L177.95,560.60M178.91,553.00L182.71,556.80M178.91,556.80L182.71,553.00M183.66,570.10L187.46,573.90M183.66,573.90L187.46,570.10M188.41,506.93L192.22,510.73M188.41,510.73L192.22,506.93M193.17,567.73L196.97,571.52M193.17,571.52L196.97,567.73M197.93,511.20L201.73,515.00M197.93,515.00L201.73,511.20M202.68,573.43L206.48,577.23M202.68,577.23L206.48,573.43M207.44,569.15L211.24,572.95M207.44,572.95L211.24,569.15M212.19,540.65L215.99,544.45M212.19,544.45L215.99,540.65M216.94,568.20L220.75,572.00M216.94,572.00L220.75,568.20M221.70,562.98L225.50,566.77M221.70,566.77L225.50,562.98M226.46,575.33L230.26,579.12M226.46,579.12L230.26,575.33M231.21,562.98L235.01,566.77M231.21,566.77L235.01,562.98M235.97,572.48L239.77,576.27M235.97,576.27L239.77,572.48M240.72,507.40L244.52,511.20M240.72,511.20L244.52,507.40M245.47,563.45L249.28,567.25M245.47,567.25L249.28,563.45M250.23,566.30L254.03,570.10M250.23,570.10L254.03,566.30M254.98,510.25L258.78,514.05M254.98,514.05L258.78,510.25M259.74,541.12L263.54,544.92M259.74,544.92L263.54,541.12M264.50,515.95L268.29,519.75M264.50,519.75L268.29,515.95M269.25,540.65L273.05,544.45M269.25,544.45L273.05,540.65M274.00,508.35L277.80,512.15M274.00,512.15L277.80,508.35M278.76,572.95L282.56,576.75M278.76,576.75L282.56,572.95M283.51,539.23L287.31,543.02M283.51,543.02L287.31,539.23M288.27,537.33L292.07,541.12M288.27,541.12L292.07,537.33M293.02,504.08L296.82,507.88M293.02,507.88L296.82,504.08M297.78,508.83L301.58,512.62M297.78,512.62L301.58,508.83M302.54,561.08L306.33,564.88M302.54,564.88L306.33,561.08M307.29,522.60L311.09,526.40M307.29,526.40L311.09,522.60M312.05,573.90L315.84,577.70M312.05,577.70L315.84,573.90M316.80,562.03L320.60,565.83M316.80,565.83L320.60,562.03M321.56,507.40L325.35,511.20M321.56,511.20L325.35,507.40M326.31,575.33L330.11,579.12M326.31,579.12L330.11,575.33M331.06,508.83L334.86,512.62M331.06,512.62L334.86,508.83M335.82,568.20L339.62,572.00M335.82,572.00L339.62,568.20M340.57,572.48L344.37,576.27M340.57,576.27L344.37,572.48M345.33,564.40L349.13,568.20M345.33,568.20L349.13,564.40M350.08,570.58L353.88,574.38M350.08,574.38L353.88,570.58M354.84,569.15L358.64,572.95M354.84,572.95L358.64,569.15M359.60,551.58L363.39,555.38M359.60,555.38L363.39,551.58M364.35,559.65L368.15,563.45M364.35,563.45L368.15,559.65M369.11,568.20L372.90,572.00M369.11,572.00L372.90,568.20M373.86,562.03L377.66,565.83M373.86,565.83L377.66,562.03M378.62,569.15L382.41,572.95M378.62,572.95L382.41,569.15M383.37,515.48L387.17,519.27M383.37,519.27L387.17,515.48M388.12,573.43L391.92,577.23M388.12,577.23L391.92,573.43M392.88,562.50L396.68,566.30M392.88,566.30L396.68,562.50M397.63,517.85L401.43,521.65M397.63,521.65L401.43,517.85M402.39,567.25L406.19,571.05M402.39,571.05L406.19,567.25M407.14,566.30L410.94,570.10M407.14,570.10L410.94,566.30M411.90,541.60L415.70,545.40M411.90,545.40L415.70,541.60M416.65,573.90L420.45,577.70M416.65,577.70L420.45,573.90M421.41,561.08L425.21,564.88M421.41,564.88L425.21,561.08M426.17,570.58L429.96,574.38M426.17,574.38L429.96,570.58M430.92,512.62L434.72,516.42M430.92,516.42L434.72,512.62M435.68,570.58L439.47,574.38M435.68,574.38L439.47,570.58M440.43,543.50L444.23,547.30M440.43,547.30L444.23,543.50M445.19,573.90L448.98,577.70M445.19,577.70L448.98,573.90M449.94,534.48L453.74,538.27M449.94,538.27L453.74,534.48M454.69,561.55L458.49,565.35M454.69,565.35L458.49,561.55M459.45,502.18L463.25,505.98M459.45,505.98L463.25,502.18M464.20,572.48L468.00,576.27M464.20,576.27L468.00,572.48M468.96,509.30L472.76,513.10M468.96,513.10L472.76,509.30M473.71,547.30L477.51,551.10M473.71,551.10L477.51,547.30M478.47,573.43L482.27,577.23M478.47,577.23L482.27,573.43M483.23,540.65L487.02,544.45M483.23,544.45L487.02,540.65M487.98,560.60L491.78,564.40M487.98,564.40L491.78,560.60M492.74,520.70L496.53,524.50M492.74,524.50L496.53,520.70M497.49,571.53L501.29,575.33M497.49,575.33L501.29,571.53" stroke="#000" stroke-width="1" fill="none"/>
<rect x="33.4" y="460.8" width="475.50" height="127.90" fill="none" stroke="#333333" stroke-width="1.1"/>
<text x="33.40" y="603.50" text-anchor="middle" class="t">0</text>
<text x="80.95" y="603.50" text-anchor="middle" class="t">10</text>
<text x="128.50" y="603.50" text-anchor="middle" class="t">20</text>
<text x="176.05" y="603.50" text-anchor="middle" class="t">30</text>
<text x="223.60" y="603.50" text-anchor="middle" class="t">40</text>
<text x="271.15" y="603.50" text-anchor="middle" class="t">50</text>
<text x="318.70" y="603.50" text-anchor="middle" class="t">60</text>
<text x="366.25" y="603.50" text-anchor="middle" class="t">70</text>
<text x="413.80" y="603.50" text-anchor="middle" class="t">80</text>
<text x="461.35" y="603.50" text-anchor="middle" class="t">90</text>
<text x="508.90" y="603.50" text-anchor="middle" class="t">100</text>
<text x="29.3" y="583.50" text-anchor="end" class="t">0</text>
<text x="29.3" y="559.75" text-anchor="end" class="t">0.5</text>
<text x="29.3" y="536.00" text-anchor="end" class="t">1</text>
<text x="29.3" y="512.25" text-anchor="end" class="t">1.5</text>
<text x="29.3" y="488.50" text-anchor="end" class="t">2</text>
<text x="29.3" y="464.75" text-anchor="end" class="t">2.5</text>
<path d="M80.95,588.70V583.70M80.95,460.80V465.80M128.50,588.70V583.70M128.50,460.80V465.80M176.05,588.70V583.70M176.05,460.80V465.80M223.60,588.70V583.70M223.60,460.80V465.80M271.15,588.70V583.70M271.15,460.80V465.80M318.70,588.70V583.70M318.70,460.80V465.80M366.25,588.70V583.70M366.25,460.80V465.80M413.80,588.70V583.70M413.80,460.80V465.80M461.35,588.70V583.70M461.35,460.80V465.80M33.4,579.60H38.40M508.9,579.60H503.90M33.4,555.85H38.40M508.9,555.85H503.90M33.4,532.10H38.40M508.9,532.10H503.90M33.4,508.35H38.40M508.9,508.35H503.90M33.4,484.60H38.40M508.9,484.60H503.90" stroke="#333333" stroke-width="1.1" fill="none"/>
<rect x="428.5" y="466.90" width="74" height="28.6" fill="#fff" stroke="#333333" stroke-width="1.1"/>
<line x1="431.2" y1="474.50" x2="454.8" y2="474.50" stroke="#0000ff" stroke-width="1"/>
<circle cx="443" cy="474.50" r="2.4" fill="none" stroke="#000" stroke-width="0.9"/>
<line x1="431.2" y1="487.90" x2="454.8" y2="487.90" stroke="#ff0000" stroke-width="1"/>
<path d="M441.1,486.00L444.9,489.80M441.1,489.80L444.9,486.00" stroke="#000" stroke-width="1"/>
<text x="457.1" y="478.70" class="l">Actual</text>
<text x="457.1" y="491.80" class="l">Predicted</text>
<g transform="translate(586.10,616.10)"><text x="0" y="0" class="al">Measured</text><text x="52.9" y="0" class="al" font-style="italic">C</text><text x="60.4" y="2.2" class="al" font-style="italic" style="font-size:8.5px">d</text></g>
<g transform="translate(539.30,558.20) rotate(-90)"><text x="0" y="0" class="al">Predicted</text><text x="52.9" y="0" class="al" font-style="italic">C</text><text x="60.4" y="2.2" class="al" font-style="italic" style="font-size:8.5px">d</text></g>
<text x="560.9" y="482.40" class="l">R² = 0.8449</text>
<circle cx="592.51" cy="557.75" r="2.7" fill="none" stroke="#2a2aff" stroke-width="0.7"/>
<circle cx="613.44" cy="524.47" r="2.7" fill="none" stroke="#2a2aff" stroke-width="0.7"/>
<circle cx="565.16" cy="579.94" r="2.7" fill="none" stroke="#2a2aff" stroke-width="0.7"/>
<circle cx="562.16" cy="584.63" r="2.7" fill="none" stroke="#2a2aff" stroke-width="0.7"/>
<circle cx="589.09" cy="557.33" r="2.7" fill="none" stroke="#2a2aff" stroke-width="0.7"/>
<circle cx="565.58" cy="571.41" r="2.7" fill="none" stroke="#2a2aff" stroke-width="0.7"/>
<circle cx="563.45" cy="567.57" r="2.7" fill="none" stroke="#2a2aff" stroke-width="0.7"/>
<circle cx="560.88" cy="574.39" r="2.7" fill="none" stroke="#2a2aff" stroke-width="0.7"/>
<circle cx="560.46" cy="579.94" r="2.7" fill="none" stroke="#2a2aff" stroke-width="0.7"/>
<circle cx="586.10" cy="561.59" r="2.7" fill="none" stroke="#2a2aff" stroke-width="0.7"/>
<circle cx="573.28" cy="574.82" r="2.7" fill="none" stroke="#2a2aff" stroke-width="0.7"/>
<circle cx="597.21" cy="555.19" r="2.7" fill="none" stroke="#2a2aff" stroke-width="0.7"/>
<circle cx="591.22" cy="552.21" r="2.7" fill="none" stroke="#2a2aff" stroke-width="0.7"/>
<circle cx="570.71" cy="573.97" r="2.7" fill="none" stroke="#2a2aff" stroke-width="0.7"/>
<circle cx="558.75" cy="584.63" r="2.7" fill="none" stroke="#2a2aff" stroke-width="0.7"/>
<circle cx="601.48" cy="539.41" r="2.7" fill="none" stroke="#2a2aff" stroke-width="0.7"/>
<circle cx="594.64" cy="551.35" r="2.7" fill="none" stroke="#2a2aff" stroke-width="0.7"/>
<circle cx="572.42" cy="570.55" r="2.7" fill="none" stroke="#2a2aff" stroke-width="0.7"/>
<circle cx="572.85" cy="576.53" r="2.7" fill="none" stroke="#2a2aff" stroke-width="0.7"/>
<circle cx="650.62" cy="532.58" r="2.7" fill="none" stroke="#2a2aff" stroke-width="0.7"/>
<circle cx="572.42" cy="568.85" r="2.7" fill="none" stroke="#2a2aff" stroke-width="0.7"/>
<circle cx="565.16" cy="578.23" r="2.7" fill="none" stroke="#2a2aff" stroke-width="0.7"/>
<circle cx="559.81" cy="582.07" r="2.7" fill="none" stroke="#2a2aff" stroke-width="0.7"/>
<circle cx="612.59" cy="524.90" r="2.7" fill="none" stroke="#2a2aff" stroke-width="0.7"/>
<circle cx="566.44" cy="573.97" r="2.7" fill="none" stroke="#2a2aff" stroke-width="0.7"/>
<circle cx="560.46" cy="582.50" r="2.7" fill="none" stroke="#2a2aff" stroke-width="0.7"/>
<circle cx="563.87" cy="579.09" r="2.7" fill="none" stroke="#2a2aff" stroke-width="0.7"/>
<circle cx="565.58" cy="567.99" r="2.7" fill="none" stroke="#2a2aff" stroke-width="0.7"/>
<circle cx="556.61" cy="585.49" r="2.7" fill="none" stroke="#2a2aff" stroke-width="0.7"/>
<circle cx="568.15" cy="573.54" r="2.7" fill="none" stroke="#2a2aff" stroke-width="0.7"/>
<circle cx="586.10" cy="566.71" r="2.7" fill="none" stroke="#2a2aff" stroke-width="0.7"/>
<circle cx="558.75" cy="582.07" r="2.7" fill="none" stroke="#2a2aff" stroke-width="0.7"/>
<circle cx="613.87" cy="525.33" r="2.7" fill="none" stroke="#2a2aff" stroke-width="0.7"/>
<circle cx="568.15" cy="579.94" r="2.7" fill="none" stroke="#2a2aff" stroke-width="0.7"/>
<circle cx="622.85" cy="529.17" r="2.7" fill="none" stroke="#2a2aff" stroke-width="0.7"/>
<circle cx="555.75" cy="585.06" r="2.7" fill="none" stroke="#2a2aff" stroke-width="0.7"/>
<circle cx="559.17" cy="581.22" r="2.7" fill="none" stroke="#2a2aff" stroke-width="0.7"/>
<circle cx="587.80" cy="555.62" r="2.7" fill="none" stroke="#2a2aff" stroke-width="0.7"/>
<circle cx="562.59" cy="580.37" r="2.7" fill="none" stroke="#2a2aff" stroke-width="0.7"/>
<circle cx="569.43" cy="575.67" r="2.7" fill="none" stroke="#2a2aff" stroke-width="0.7"/>
<circle cx="556.61" cy="586.77" r="2.7" fill="none" stroke="#2a2aff" stroke-width="0.7"/>
<circle cx="566.01" cy="575.67" r="2.7" fill="none" stroke="#2a2aff" stroke-width="0.7"/>
<circle cx="556.18" cy="584.21" r="2.7" fill="none" stroke="#2a2aff" stroke-width="0.7"/>
<circle cx="611.31" cy="525.75" r="2.7" fill="none" stroke="#2a2aff" stroke-width="0.7"/>
<circle cx="571.57" cy="576.10" r="2.7" fill="none" stroke="#2a2aff" stroke-width="0.7"/>
<circle cx="563.02" cy="578.66" r="2.7" fill="none" stroke="#2a2aff" stroke-width="0.7"/>
<circle cx="628.40" cy="528.31" r="2.7" fill="none" stroke="#2a2aff" stroke-width="0.7"/>
<circle cx="590.37" cy="556.05" r="2.7" fill="none" stroke="#2a2aff" stroke-width="0.7"/>
<circle cx="610.03" cy="533.43" r="2.7" fill="none" stroke="#2a2aff" stroke-width="0.7"/>
<circle cx="583.96" cy="555.62" r="2.7" fill="none" stroke="#2a2aff" stroke-width="0.7"/>
<circle cx="622.42" cy="526.61" r="2.7" fill="none" stroke="#2a2aff" stroke-width="0.7"/>
<circle cx="559.17" cy="584.63" r="2.7" fill="none" stroke="#2a2aff" stroke-width="0.7"/>
<circle cx="589.09" cy="554.34" r="2.7" fill="none" stroke="#2a2aff" stroke-width="0.7"/>
<circle cx="586.10" cy="552.63" r="2.7" fill="none" stroke="#2a2aff" stroke-width="0.7"/>
<circle cx="628.83" cy="522.77" r="2.7" fill="none" stroke="#2a2aff" stroke-width="0.7"/>
<circle cx="625.41" cy="527.03" r="2.7" fill="none" stroke="#2a2aff" stroke-width="0.7"/>
<circle cx="570.71" cy="573.97" r="2.7" fill="none" stroke="#2a2aff" stroke-width="0.7"/>
<circle cx="597.63" cy="539.41" r="2.7" fill="none" stroke="#2a2aff" stroke-width="0.7"/>
<circle cx="557.04" cy="585.49" r="2.7" fill="none" stroke="#2a2aff" stroke-width="0.7"/>
<circle cx="568.57" cy="574.82" r="2.7" fill="none" stroke="#2a2aff" stroke-width="0.7"/>
<circle cx="625.41" cy="525.75" r="2.7" fill="none" stroke="#2a2aff" stroke-width="0.7"/>
<circle cx="557.04" cy="586.77" r="2.7" fill="none" stroke="#2a2aff" stroke-width="0.7"/>
<circle cx="621.56" cy="527.03" r="2.7" fill="none" stroke="#2a2aff" stroke-width="0.7"/>
<circle cx="561.31" cy="580.37" r="2.7" fill="none" stroke="#2a2aff" stroke-width="0.7"/>
<circle cx="563.02" cy="584.21" r="2.7" fill="none" stroke="#2a2aff" stroke-width="0.7"/>
<circle cx="573.70" cy="576.95" r="2.7" fill="none" stroke="#2a2aff" stroke-width="0.7"/>
<circle cx="560.46" cy="582.50" r="2.7" fill="none" stroke="#2a2aff" stroke-width="0.7"/>
<circle cx="561.31" cy="581.22" r="2.7" fill="none" stroke="#2a2aff" stroke-width="0.7"/>
<circle cx="578.40" cy="565.43" r="2.7" fill="none" stroke="#2a2aff" stroke-width="0.7"/>
<circle cx="560.46" cy="572.69" r="2.7" fill="none" stroke="#2a2aff" stroke-width="0.7"/>
<circle cx="557.04" cy="580.37" r="2.7" fill="none" stroke="#2a2aff" stroke-width="0.7"/>
<circle cx="569.43" cy="574.82" r="2.7" fill="none" stroke="#2a2aff" stroke-width="0.7"/>
<circle cx="557.89" cy="581.22" r="2.7" fill="none" stroke="#2a2aff" stroke-width="0.7"/>
<circle cx="649.77" cy="533.01" r="2.7" fill="none" stroke="#2a2aff" stroke-width="0.7"/>
<circle cx="556.61" cy="585.06" r="2.7" fill="none" stroke="#2a2aff" stroke-width="0.7"/>
<circle cx="572.42" cy="575.25" r="2.7" fill="none" stroke="#2a2aff" stroke-width="0.7"/>
<circle cx="608.32" cy="535.14" r="2.7" fill="none" stroke="#2a2aff" stroke-width="0.7"/>
<circle cx="560.88" cy="579.51" r="2.7" fill="none" stroke="#2a2aff" stroke-width="0.7"/>
<circle cx="565.16" cy="578.66" r="2.7" fill="none" stroke="#2a2aff" stroke-width="0.7"/>
<circle cx="598.92" cy="556.47" r="2.7" fill="none" stroke="#2a2aff" stroke-width="0.7"/>
<circle cx="557.89" cy="585.49" r="2.7" fill="none" stroke="#2a2aff" stroke-width="0.7"/>
<circle cx="568.15" cy="573.97" r="2.7" fill="none" stroke="#2a2aff" stroke-width="0.7"/>
<circle cx="555.75" cy="582.50" r="2.7" fill="none" stroke="#2a2aff" stroke-width="0.7"/>
<circle cx="608.32" cy="530.45" r="2.7" fill="none" stroke="#2a2aff" stroke-width="0.7"/>
<circle cx="557.89" cy="582.50" r="2.7" fill="none" stroke="#2a2aff" stroke-width="0.7"/>
<circle cx="586.95" cy="558.18" r="2.7" fill="none" stroke="#2a2aff" stroke-width="0.7"/>
<circle cx="557.89" cy="585.49" r="2.7" fill="none" stroke="#2a2aff" stroke-width="0.7"/>
<circle cx="625.41" cy="550.07" r="2.7" fill="none" stroke="#2a2aff" stroke-width="0.7"/>
<circle cx="568.15" cy="574.39" r="2.7" fill="none" stroke="#2a2aff" stroke-width="0.7"/>
<circle cx="630.54" cy="521.06" r="2.7" fill="none" stroke="#2a2aff" stroke-width="0.7"/>
<circle cx="559.60" cy="584.21" r="2.7" fill="none" stroke="#2a2aff" stroke-width="0.7"/>
<circle cx="630.54" cy="527.46" r="2.7" fill="none" stroke="#2a2aff" stroke-width="0.7"/>
<circle cx="586.10" cy="561.59" r="2.7" fill="none" stroke="#2a2aff" stroke-width="0.7"/>
<circle cx="560.46" cy="585.06" r="2.7" fill="none" stroke="#2a2aff" stroke-width="0.7"/>
<circle cx="603.62" cy="555.62" r="2.7" fill="none" stroke="#2a2aff" stroke-width="0.7"/>
<circle cx="566.44" cy="573.54" r="2.7" fill="none" stroke="#2a2aff" stroke-width="0.7"/>
<circle cx="556.61" cy="537.70" r="2.7" fill="none" stroke="#2a2aff" stroke-width="0.7"/>
<circle cx="560.03" cy="583.35" r="2.7" fill="none" stroke="#2a2aff" stroke-width="0.7"/>
<line x1="554.9" y1="588.90" x2="683.1" y2="460.90" stroke="#ff0000" stroke-width="1.2" stroke-dasharray="5 3"/>
<rect x="554.9" y="460.90" width="128.20" height="128.00" fill="none" stroke="#333333" stroke-width="1.1"/>
<text x="554.90" y="603.50" text-anchor="middle" class="t">0</text>
<text x="551.0" y="592.80" text-anchor="end" class="t">0</text>
<text x="597.63" y="603.50" text-anchor="middle" class="t">1</text>
<text x="551.0" y="550.13" text-anchor="end" class="t">1</text>
<text x="640.37" y="603.50" text-anchor="middle" class="t">2</text>
<text x="551.0" y="507.47" text-anchor="end" class="t">2</text>
<text x="683.10" y="603.50" text-anchor="middle" class="t">3</text>
<text x="551.0" y="464.80" text-anchor="end" class="t">3</text>
<path d="M597.63,588.90V587.60M597.63,460.90V462.20M554.9,546.23H556.20M683.1,546.23H681.80M640.37,588.90V587.60M640.37,460.90V462.20M554.9,503.57H556.20M683.1,503.57H681.80" stroke="#333333" stroke-width="1.1" fill="none"/>
</svg>
</body></html>
